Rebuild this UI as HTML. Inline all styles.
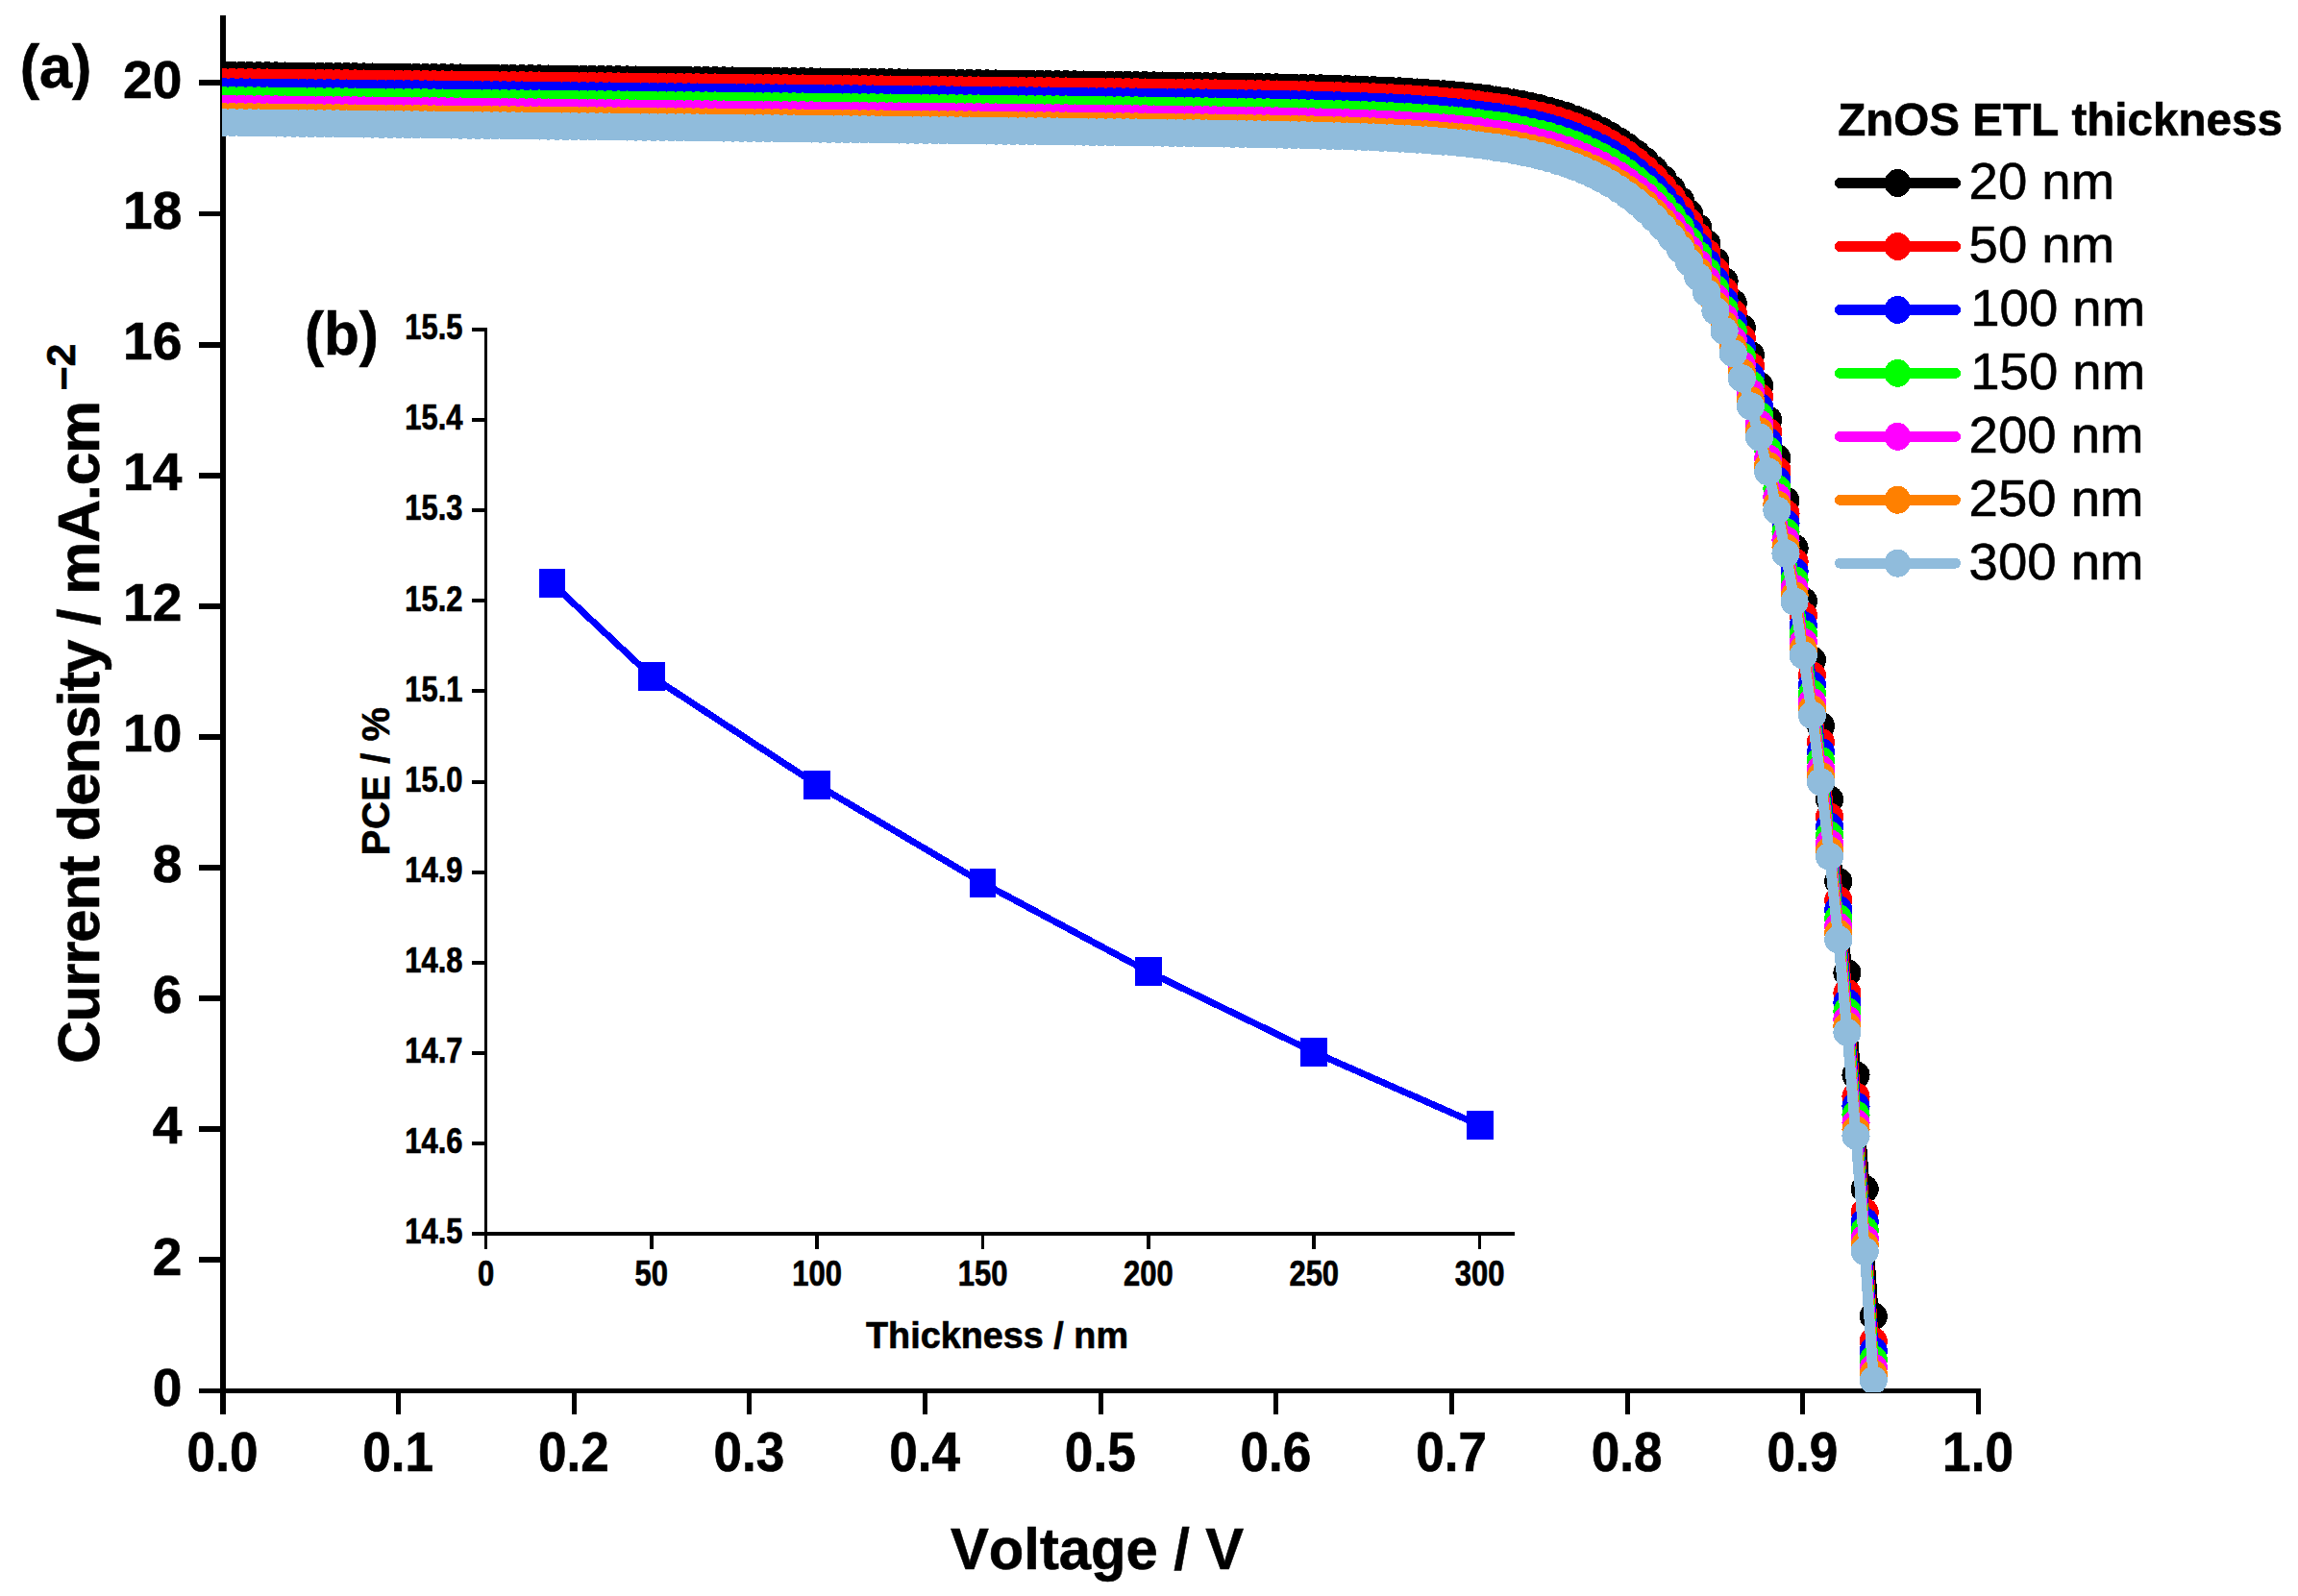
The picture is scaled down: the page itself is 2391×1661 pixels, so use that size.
<!DOCTYPE html>
<html lang="en"><head><meta charset="utf-8"><title>J-V curves, ZnOS ETL thickness</title>
<style>
html,body{margin:0;padding:0;background:#fff;}
body{width:2391px;height:1661px;overflow:hidden;}
svg{display:block;}
text{font-family:"Liberation Sans",Arial,Helvetica,sans-serif;fill:#000;font-kerning:none;stroke:#000;stroke-width:0.6px;}
.b{font-weight:bold;}
.ax{stroke:#000;fill:none;stroke-linecap:butt;}
</style></head><body>
<svg width="2391" height="1661" viewBox="0 0 2391 1661" shape-rendering="crispEdges">
<rect x="0" y="0" width="2391" height="1661" fill="#fff"/>
<g class="ax">
<line x1="232" y1="16" x2="232" y2="1472" stroke-width="5.9"/>
<line x1="207" y1="1447.4" x2="2060.9" y2="1447.4" stroke-width="5"/>
</g>
<g class="ax" stroke-width="5">
<line x1="207" y1="1311.3" x2="232" y2="1311.3" stroke-width="5.9"/>
<line x1="207" y1="1175.2" x2="232" y2="1175.2" stroke-width="5.9"/>
<line x1="207" y1="1039.1" x2="232" y2="1039.1" stroke-width="5.9"/>
<line x1="207" y1="903" x2="232" y2="903" stroke-width="5.9"/>
<line x1="207" y1="766.9" x2="232" y2="766.9" stroke-width="5.9"/>
<line x1="207" y1="630.8" x2="232" y2="630.8" stroke-width="5.9"/>
<line x1="207" y1="494.7" x2="232" y2="494.7" stroke-width="5.9"/>
<line x1="207" y1="358.6" x2="232" y2="358.6" stroke-width="5.9"/>
<line x1="207" y1="222.5" x2="232" y2="222.5" stroke-width="5.9"/>
<line x1="207" y1="86.4" x2="232" y2="86.4" stroke-width="5.9"/>
<line x1="414.65" y1="1447.4" x2="414.65" y2="1472"/>
<line x1="597.3" y1="1447.4" x2="597.3" y2="1472"/>
<line x1="779.95" y1="1447.4" x2="779.95" y2="1472"/>
<line x1="962.6" y1="1447.4" x2="962.6" y2="1472"/>
<line x1="1145.25" y1="1447.4" x2="1145.25" y2="1472"/>
<line x1="1327.9" y1="1447.4" x2="1327.9" y2="1472"/>
<line x1="1510.55" y1="1447.4" x2="1510.55" y2="1472"/>
<line x1="1693.2" y1="1447.4" x2="1693.2" y2="1472"/>
<line x1="1875.85" y1="1447.4" x2="1875.85" y2="1472"/>
<line x1="2058.5" y1="1447.4" x2="2058.5" y2="1472"/>
</g>
<defs><clipPath id="pc"><rect x="231" y="0" width="1900" height="1449"/></clipPath></defs>
<g clip-path="url(#pc)">
<g fill="#000000" stroke="none">
<polyline fill="none" stroke="#000000" stroke-width="11" stroke-linejoin="round" stroke-linecap="round" points="232.4,78.2 241.5,78.3 250.7,78.4 259.8,78.5 268.9,78.6 278.1,78.7 287.2,78.8 296.3,78.9 305.5,79.0 314.6,79.1 323.7,79.2 332.9,79.3 342.0,79.4 351.1,79.5 360.3,79.6 369.4,79.7 378.5,79.8 387.7,79.9 396.8,80.0 405.9,80.1 415.0,80.2 424.2,80.3 433.3,80.4 442.4,80.5 451.6,80.6 460.7,80.7 469.8,80.8 479.0,80.9 488.1,81.0 497.2,81.1 506.4,81.2 515.5,81.3 524.6,81.4 533.8,81.5 542.9,81.6 552.0,81.7 561.2,81.8 570.3,81.9 579.4,82.0 588.6,82.1 597.7,82.2 606.8,82.3 616.0,82.4 625.1,82.5 634.2,82.6 643.4,82.7 652.5,82.8 661.6,82.9 670.8,83.0 679.9,83.1 689.0,83.2 698.2,83.2 707.3,83.3 716.4,83.4 725.6,83.5 734.7,83.6 743.8,83.7 753.0,83.8 762.1,83.9 771.2,84.0 780.3,84.1 789.5,84.2 798.6,84.3 807.7,84.4 816.9,84.5 826.0,84.6 835.1,84.7 844.3,84.8 853.4,84.9 862.5,85.0 871.7,85.1 880.8,85.2 889.9,85.3 899.1,85.4 908.2,85.5 917.3,85.6 926.5,85.7 935.6,85.8 944.7,85.9 953.9,86.0 963.0,86.1 972.1,86.2 981.3,86.3 990.4,86.4 999.5,86.5 1008.7,86.6 1017.8,86.7 1026.9,86.8 1036.1,86.9 1045.2,87.0 1054.3,87.1 1063.5,87.2 1072.6,87.3 1081.7,87.4 1090.9,87.5 1100.0,87.6 1109.1,87.7 1118.3,87.8 1127.4,87.9 1136.5,88.1 1145.7,88.2 1154.8,88.3 1163.9,88.4 1173.0,88.5 1182.2,88.6 1191.3,88.7 1200.4,88.8 1209.6,88.9 1218.7,89.1 1227.8,89.2 1237.0,89.3 1246.1,89.4 1255.2,89.6 1264.4,89.7 1273.5,89.8 1282.6,90.0 1291.8,90.1 1300.9,90.3 1310.0,90.4 1319.2,90.6 1328.3,90.8 1337.4,91.0 1346.6,91.2 1355.7,91.4 1364.8,91.6 1374.0,91.8 1383.1,92.1 1392.2,92.3 1401.4,92.6 1410.5,92.9 1419.6,93.2 1428.8,93.6 1437.9,94.0 1447.0,94.4 1456.2,94.8 1465.3,95.3 1474.4,95.9 1483.6,96.5 1492.7,97.1 1501.8,97.8 1511.0,98.6 1520.1,99.5 1529.2,100.4 1538.3,101.5 1547.5,102.6 1556.6,103.9 1565.7,105.3 1574.9,106.9 1584.0,108.7 1593.1,110.6 1602.3,112.7 1611.4,115.1 1620.5,117.8 1629.7,120.7 1638.8,124.0 1647.9,127.7 1657.1,131.7 1666.2,136.2 1675.3,141.2 1684.5,146.8 1693.6,153.1 1702.7,160.0 1711.9,167.8 1721.0,176.4 1730.1,186.0 1739.3,196.7 1748.4,208.7 1757.5,222.0 1766.7,236.8 1775.8,253.4 1784.9,271.9 1794.1,292.5 1803.2,315.4 1812.3,341.1 1821.5,369.6 1830.6,401.5 1839.7,437.1 1848.9,476.8 1858.0,521.0 1867.1,570.4 1876.3,625.5 1885.4,686.9 1894.5,755.5 1903.6,832.0 1912.8,917.4 1921.9,1012.6 1931.0,1118.9 1940.2,1237.5 1949.3,1369.8"/>
<ellipse cx="232.4" cy="78.2" rx="14.55" ry="14.45"/>
<ellipse cx="241.5" cy="78.3" rx="14.55" ry="14.45"/>
<ellipse cx="250.7" cy="78.4" rx="14.55" ry="14.45"/>
<ellipse cx="259.8" cy="78.5" rx="14.55" ry="14.45"/>
<ellipse cx="268.9" cy="78.6" rx="14.55" ry="14.45"/>
<ellipse cx="278.1" cy="78.7" rx="14.55" ry="14.45"/>
<ellipse cx="287.2" cy="78.8" rx="14.55" ry="14.45"/>
<ellipse cx="296.3" cy="78.9" rx="14.55" ry="14.45"/>
<ellipse cx="305.5" cy="79.0" rx="14.55" ry="14.45"/>
<ellipse cx="314.6" cy="79.1" rx="14.55" ry="14.45"/>
<ellipse cx="323.7" cy="79.2" rx="14.55" ry="14.45"/>
<ellipse cx="332.9" cy="79.3" rx="14.55" ry="14.45"/>
<ellipse cx="342.0" cy="79.4" rx="14.55" ry="14.45"/>
<ellipse cx="351.1" cy="79.5" rx="14.55" ry="14.45"/>
<ellipse cx="360.3" cy="79.6" rx="14.55" ry="14.45"/>
<ellipse cx="369.4" cy="79.7" rx="14.55" ry="14.45"/>
<ellipse cx="378.5" cy="79.8" rx="14.55" ry="14.45"/>
<ellipse cx="387.7" cy="79.9" rx="14.55" ry="14.45"/>
<ellipse cx="396.8" cy="80.0" rx="14.55" ry="14.45"/>
<ellipse cx="405.9" cy="80.1" rx="14.55" ry="14.45"/>
<ellipse cx="415.0" cy="80.2" rx="14.55" ry="14.45"/>
<ellipse cx="424.2" cy="80.3" rx="14.55" ry="14.45"/>
<ellipse cx="433.3" cy="80.4" rx="14.55" ry="14.45"/>
<ellipse cx="442.4" cy="80.5" rx="14.55" ry="14.45"/>
<ellipse cx="451.6" cy="80.6" rx="14.55" ry="14.45"/>
<ellipse cx="460.7" cy="80.7" rx="14.55" ry="14.45"/>
<ellipse cx="469.8" cy="80.8" rx="14.55" ry="14.45"/>
<ellipse cx="479.0" cy="80.9" rx="14.55" ry="14.45"/>
<ellipse cx="488.1" cy="81.0" rx="14.55" ry="14.45"/>
<ellipse cx="497.2" cy="81.1" rx="14.55" ry="14.45"/>
<ellipse cx="506.4" cy="81.2" rx="14.55" ry="14.45"/>
<ellipse cx="515.5" cy="81.3" rx="14.55" ry="14.45"/>
<ellipse cx="524.6" cy="81.4" rx="14.55" ry="14.45"/>
<ellipse cx="533.8" cy="81.5" rx="14.55" ry="14.45"/>
<ellipse cx="542.9" cy="81.6" rx="14.55" ry="14.45"/>
<ellipse cx="552.0" cy="81.7" rx="14.55" ry="14.45"/>
<ellipse cx="561.2" cy="81.8" rx="14.55" ry="14.45"/>
<ellipse cx="570.3" cy="81.9" rx="14.55" ry="14.45"/>
<ellipse cx="579.4" cy="82.0" rx="14.55" ry="14.45"/>
<ellipse cx="588.6" cy="82.1" rx="14.55" ry="14.45"/>
<ellipse cx="597.7" cy="82.2" rx="14.55" ry="14.45"/>
<ellipse cx="606.8" cy="82.3" rx="14.55" ry="14.45"/>
<ellipse cx="616.0" cy="82.4" rx="14.55" ry="14.45"/>
<ellipse cx="625.1" cy="82.5" rx="14.55" ry="14.45"/>
<ellipse cx="634.2" cy="82.6" rx="14.55" ry="14.45"/>
<ellipse cx="643.4" cy="82.7" rx="14.55" ry="14.45"/>
<ellipse cx="652.5" cy="82.8" rx="14.55" ry="14.45"/>
<ellipse cx="661.6" cy="82.9" rx="14.55" ry="14.45"/>
<ellipse cx="670.8" cy="83.0" rx="14.55" ry="14.45"/>
<ellipse cx="679.9" cy="83.1" rx="14.55" ry="14.45"/>
<ellipse cx="689.0" cy="83.2" rx="14.55" ry="14.45"/>
<ellipse cx="698.2" cy="83.2" rx="14.55" ry="14.45"/>
<ellipse cx="707.3" cy="83.3" rx="14.55" ry="14.45"/>
<ellipse cx="716.4" cy="83.4" rx="14.55" ry="14.45"/>
<ellipse cx="725.6" cy="83.5" rx="14.55" ry="14.45"/>
<ellipse cx="734.7" cy="83.6" rx="14.55" ry="14.45"/>
<ellipse cx="743.8" cy="83.7" rx="14.55" ry="14.45"/>
<ellipse cx="753.0" cy="83.8" rx="14.55" ry="14.45"/>
<ellipse cx="762.1" cy="83.9" rx="14.55" ry="14.45"/>
<ellipse cx="771.2" cy="84.0" rx="14.55" ry="14.45"/>
<ellipse cx="780.3" cy="84.1" rx="14.55" ry="14.45"/>
<ellipse cx="789.5" cy="84.2" rx="14.55" ry="14.45"/>
<ellipse cx="798.6" cy="84.3" rx="14.55" ry="14.45"/>
<ellipse cx="807.7" cy="84.4" rx="14.55" ry="14.45"/>
<ellipse cx="816.9" cy="84.5" rx="14.55" ry="14.45"/>
<ellipse cx="826.0" cy="84.6" rx="14.55" ry="14.45"/>
<ellipse cx="835.1" cy="84.7" rx="14.55" ry="14.45"/>
<ellipse cx="844.3" cy="84.8" rx="14.55" ry="14.45"/>
<ellipse cx="853.4" cy="84.9" rx="14.55" ry="14.45"/>
<ellipse cx="862.5" cy="85.0" rx="14.55" ry="14.45"/>
<ellipse cx="871.7" cy="85.1" rx="14.55" ry="14.45"/>
<ellipse cx="880.8" cy="85.2" rx="14.55" ry="14.45"/>
<ellipse cx="889.9" cy="85.3" rx="14.55" ry="14.45"/>
<ellipse cx="899.1" cy="85.4" rx="14.55" ry="14.45"/>
<ellipse cx="908.2" cy="85.5" rx="14.55" ry="14.45"/>
<ellipse cx="917.3" cy="85.6" rx="14.55" ry="14.45"/>
<ellipse cx="926.5" cy="85.7" rx="14.55" ry="14.45"/>
<ellipse cx="935.6" cy="85.8" rx="14.55" ry="14.45"/>
<ellipse cx="944.7" cy="85.9" rx="14.55" ry="14.45"/>
<ellipse cx="953.9" cy="86.0" rx="14.55" ry="14.45"/>
<ellipse cx="963.0" cy="86.1" rx="14.55" ry="14.45"/>
<ellipse cx="972.1" cy="86.2" rx="14.55" ry="14.45"/>
<ellipse cx="981.3" cy="86.3" rx="14.55" ry="14.45"/>
<ellipse cx="990.4" cy="86.4" rx="14.55" ry="14.45"/>
<ellipse cx="999.5" cy="86.5" rx="14.55" ry="14.45"/>
<ellipse cx="1008.7" cy="86.6" rx="14.55" ry="14.45"/>
<ellipse cx="1017.8" cy="86.7" rx="14.55" ry="14.45"/>
<ellipse cx="1026.9" cy="86.8" rx="14.55" ry="14.45"/>
<ellipse cx="1036.1" cy="86.9" rx="14.55" ry="14.45"/>
<ellipse cx="1045.2" cy="87.0" rx="14.55" ry="14.45"/>
<ellipse cx="1054.3" cy="87.1" rx="14.55" ry="14.45"/>
<ellipse cx="1063.5" cy="87.2" rx="14.55" ry="14.45"/>
<ellipse cx="1072.6" cy="87.3" rx="14.55" ry="14.45"/>
<ellipse cx="1081.7" cy="87.4" rx="14.55" ry="14.45"/>
<ellipse cx="1090.9" cy="87.5" rx="14.55" ry="14.45"/>
<ellipse cx="1100.0" cy="87.6" rx="14.55" ry="14.45"/>
<ellipse cx="1109.1" cy="87.7" rx="14.55" ry="14.45"/>
<ellipse cx="1118.3" cy="87.8" rx="14.55" ry="14.45"/>
<ellipse cx="1127.4" cy="87.9" rx="14.55" ry="14.45"/>
<ellipse cx="1136.5" cy="88.1" rx="14.55" ry="14.45"/>
<ellipse cx="1145.7" cy="88.2" rx="14.55" ry="14.45"/>
<ellipse cx="1154.8" cy="88.3" rx="14.55" ry="14.45"/>
<ellipse cx="1163.9" cy="88.4" rx="14.55" ry="14.45"/>
<ellipse cx="1173.0" cy="88.5" rx="14.55" ry="14.45"/>
<ellipse cx="1182.2" cy="88.6" rx="14.55" ry="14.45"/>
<ellipse cx="1191.3" cy="88.7" rx="14.55" ry="14.45"/>
<ellipse cx="1200.4" cy="88.8" rx="14.55" ry="14.45"/>
<ellipse cx="1209.6" cy="88.9" rx="14.55" ry="14.45"/>
<ellipse cx="1218.7" cy="89.1" rx="14.55" ry="14.45"/>
<ellipse cx="1227.8" cy="89.2" rx="14.55" ry="14.45"/>
<ellipse cx="1237.0" cy="89.3" rx="14.55" ry="14.45"/>
<ellipse cx="1246.1" cy="89.4" rx="14.55" ry="14.45"/>
<ellipse cx="1255.2" cy="89.6" rx="14.55" ry="14.45"/>
<ellipse cx="1264.4" cy="89.7" rx="14.55" ry="14.45"/>
<ellipse cx="1273.5" cy="89.8" rx="14.55" ry="14.45"/>
<ellipse cx="1282.6" cy="90.0" rx="14.55" ry="14.45"/>
<ellipse cx="1291.8" cy="90.1" rx="14.55" ry="14.45"/>
<ellipse cx="1300.9" cy="90.3" rx="14.55" ry="14.45"/>
<ellipse cx="1310.0" cy="90.4" rx="14.55" ry="14.45"/>
<ellipse cx="1319.2" cy="90.6" rx="14.55" ry="14.45"/>
<ellipse cx="1328.3" cy="90.8" rx="14.55" ry="14.45"/>
<ellipse cx="1337.4" cy="91.0" rx="14.55" ry="14.45"/>
<ellipse cx="1346.6" cy="91.2" rx="14.55" ry="14.45"/>
<ellipse cx="1355.7" cy="91.4" rx="14.55" ry="14.45"/>
<ellipse cx="1364.8" cy="91.6" rx="14.55" ry="14.45"/>
<ellipse cx="1374.0" cy="91.8" rx="14.55" ry="14.45"/>
<ellipse cx="1383.1" cy="92.1" rx="14.55" ry="14.45"/>
<ellipse cx="1392.2" cy="92.3" rx="14.55" ry="14.45"/>
<ellipse cx="1401.4" cy="92.6" rx="14.55" ry="14.45"/>
<ellipse cx="1410.5" cy="92.9" rx="14.55" ry="14.45"/>
<ellipse cx="1419.6" cy="93.2" rx="14.55" ry="14.45"/>
<ellipse cx="1428.8" cy="93.6" rx="14.55" ry="14.45"/>
<ellipse cx="1437.9" cy="94.0" rx="14.55" ry="14.45"/>
<ellipse cx="1447.0" cy="94.4" rx="14.55" ry="14.45"/>
<ellipse cx="1456.2" cy="94.8" rx="14.55" ry="14.45"/>
<ellipse cx="1465.3" cy="95.3" rx="14.55" ry="14.45"/>
<ellipse cx="1474.4" cy="95.9" rx="14.55" ry="14.45"/>
<ellipse cx="1483.6" cy="96.5" rx="14.55" ry="14.45"/>
<ellipse cx="1492.7" cy="97.1" rx="14.55" ry="14.45"/>
<ellipse cx="1501.8" cy="97.8" rx="14.55" ry="14.45"/>
<ellipse cx="1511.0" cy="98.6" rx="14.55" ry="14.45"/>
<ellipse cx="1520.1" cy="99.5" rx="14.55" ry="14.45"/>
<ellipse cx="1529.2" cy="100.4" rx="14.55" ry="14.45"/>
<ellipse cx="1538.3" cy="101.5" rx="14.55" ry="14.45"/>
<ellipse cx="1547.5" cy="102.6" rx="14.55" ry="14.45"/>
<ellipse cx="1556.6" cy="103.9" rx="14.55" ry="14.45"/>
<ellipse cx="1565.7" cy="105.3" rx="14.55" ry="14.45"/>
<ellipse cx="1574.9" cy="106.9" rx="14.55" ry="14.45"/>
<ellipse cx="1584.0" cy="108.7" rx="14.55" ry="14.45"/>
<ellipse cx="1593.1" cy="110.6" rx="14.55" ry="14.45"/>
<ellipse cx="1602.3" cy="112.7" rx="14.55" ry="14.45"/>
<ellipse cx="1611.4" cy="115.1" rx="14.55" ry="14.45"/>
<ellipse cx="1620.5" cy="117.8" rx="14.55" ry="14.45"/>
<ellipse cx="1629.7" cy="120.7" rx="14.55" ry="14.45"/>
<ellipse cx="1638.8" cy="124.0" rx="14.55" ry="14.45"/>
<ellipse cx="1647.9" cy="127.7" rx="14.55" ry="14.45"/>
<ellipse cx="1657.1" cy="131.7" rx="14.55" ry="14.45"/>
<ellipse cx="1666.2" cy="136.2" rx="14.55" ry="14.45"/>
<ellipse cx="1675.3" cy="141.2" rx="14.55" ry="14.45"/>
<ellipse cx="1684.5" cy="146.8" rx="14.55" ry="14.45"/>
<ellipse cx="1693.6" cy="153.1" rx="14.55" ry="14.45"/>
<ellipse cx="1702.7" cy="160.0" rx="14.55" ry="14.45"/>
<ellipse cx="1711.9" cy="167.8" rx="14.55" ry="14.45"/>
<ellipse cx="1721.0" cy="176.4" rx="14.55" ry="14.45"/>
<ellipse cx="1730.1" cy="186.0" rx="14.55" ry="14.45"/>
<ellipse cx="1739.3" cy="196.7" rx="14.55" ry="14.45"/>
<ellipse cx="1748.4" cy="208.7" rx="14.55" ry="14.45"/>
<ellipse cx="1757.5" cy="222.0" rx="14.55" ry="14.45"/>
<ellipse cx="1766.7" cy="236.8" rx="14.55" ry="14.45"/>
<ellipse cx="1775.8" cy="253.4" rx="14.55" ry="14.45"/>
<ellipse cx="1784.9" cy="271.9" rx="14.55" ry="14.45"/>
<ellipse cx="1794.1" cy="292.5" rx="14.55" ry="14.45"/>
<ellipse cx="1803.2" cy="315.4" rx="14.55" ry="14.45"/>
<ellipse cx="1812.3" cy="341.1" rx="14.55" ry="14.45"/>
<ellipse cx="1821.5" cy="369.6" rx="14.55" ry="14.45"/>
<ellipse cx="1830.6" cy="401.5" rx="14.55" ry="14.45"/>
<ellipse cx="1839.7" cy="437.1" rx="14.55" ry="14.45"/>
<ellipse cx="1848.9" cy="476.8" rx="14.55" ry="14.45"/>
<ellipse cx="1858.0" cy="521.0" rx="14.55" ry="14.45"/>
<ellipse cx="1867.1" cy="570.4" rx="14.55" ry="14.45"/>
<ellipse cx="1876.3" cy="625.5" rx="14.55" ry="14.45"/>
<ellipse cx="1885.4" cy="686.9" rx="14.55" ry="14.45"/>
<ellipse cx="1894.5" cy="755.5" rx="14.55" ry="14.45"/>
<ellipse cx="1903.6" cy="832.0" rx="14.55" ry="14.45"/>
<ellipse cx="1912.8" cy="917.4" rx="14.55" ry="14.45"/>
<ellipse cx="1921.9" cy="1012.6" rx="14.55" ry="14.45"/>
<ellipse cx="1931.0" cy="1118.9" rx="14.55" ry="14.45"/>
<ellipse cx="1940.2" cy="1237.5" rx="14.55" ry="14.45"/>
<ellipse cx="1949.3" cy="1369.8" rx="14.55" ry="14.45"/>
</g>
<g fill="#ff0000" stroke="none">
<polyline fill="none" stroke="#ff0000" stroke-width="11" stroke-linejoin="round" stroke-linecap="round" points="232.4,85.4 241.5,85.5 250.7,85.6 259.8,85.7 268.9,85.8 278.1,85.9 287.2,86.0 296.3,86.1 305.5,86.1 314.6,86.2 323.7,86.3 332.9,86.4 342.0,86.5 351.1,86.6 360.3,86.7 369.4,86.8 378.5,86.9 387.7,87.0 396.8,87.1 405.9,87.2 415.0,87.3 424.2,87.4 433.3,87.5 442.4,87.6 451.6,87.7 460.7,87.8 469.8,87.9 479.0,88.0 488.1,88.1 497.2,88.2 506.4,88.3 515.5,88.4 524.6,88.5 533.8,88.6 542.9,88.7 552.0,88.8 561.2,88.9 570.3,89.0 579.4,89.1 588.6,89.2 597.7,89.3 606.8,89.4 616.0,89.5 625.1,89.6 634.2,89.7 643.4,89.8 652.5,89.9 661.6,90.0 670.8,90.1 679.9,90.2 689.0,90.3 698.2,90.4 707.3,90.5 716.4,90.6 725.6,90.7 734.7,90.8 743.8,90.9 753.0,91.0 762.1,91.1 771.2,91.2 780.3,91.3 789.5,91.4 798.6,91.5 807.7,91.6 816.9,91.7 826.0,91.8 835.1,91.9 844.3,92.0 853.4,92.1 862.5,92.2 871.7,92.3 880.8,92.4 889.9,92.5 899.1,92.6 908.2,92.7 917.3,92.8 926.5,92.9 935.6,93.0 944.7,93.1 953.9,93.2 963.0,93.3 972.1,93.4 981.3,93.5 990.4,93.6 999.5,93.7 1008.7,93.8 1017.8,93.9 1026.9,94.0 1036.1,94.1 1045.2,94.2 1054.3,94.3 1063.5,94.4 1072.6,94.5 1081.7,94.6 1090.9,94.7 1100.0,94.8 1109.1,94.9 1118.3,95.0 1127.4,95.1 1136.5,95.2 1145.7,95.3 1154.8,95.4 1163.9,95.5 1173.0,95.6 1182.2,95.7 1191.3,95.9 1200.4,96.0 1209.6,96.1 1218.7,96.2 1227.8,96.3 1237.0,96.5 1246.1,96.6 1255.2,96.7 1264.4,96.8 1273.5,97.0 1282.6,97.1 1291.8,97.3 1300.9,97.4 1310.0,97.6 1319.2,97.8 1328.3,97.9 1337.4,98.1 1346.6,98.3 1355.7,98.5 1364.8,98.7 1374.0,99.0 1383.1,99.2 1392.2,99.5 1401.4,99.8 1410.5,100.1 1419.6,100.4 1428.8,100.8 1437.9,101.2 1447.0,101.6 1456.2,102.0 1465.3,102.5 1474.4,103.1 1483.6,103.7 1492.7,104.3 1501.8,105.1 1511.0,105.9 1520.1,106.7 1529.2,107.7 1538.3,108.8 1547.5,109.9 1556.6,111.2 1565.7,112.7 1574.9,114.3 1584.0,116.0 1593.1,118.0 1602.3,120.2 1611.4,122.6 1620.5,125.3 1629.7,128.3 1638.8,131.6 1647.9,135.3 1657.1,139.4 1666.2,144.0 1675.3,149.1 1684.5,154.8 1693.6,161.1 1702.7,168.1 1711.9,176.0 1721.0,184.7 1730.1,194.5 1739.3,205.4 1748.4,217.5 1757.5,231.0 1766.7,246.1 1775.8,262.9 1784.9,281.6 1794.1,302.5 1803.2,325.8 1812.3,351.8 1821.5,380.8 1830.6,413.2 1839.7,449.3 1848.9,489.5 1858.0,534.4 1867.1,584.5 1876.3,640.5 1885.4,702.8 1894.5,772.4 1903.6,850.0 1912.8,936.7 1921.9,1033.3 1931.0,1141.2 1940.2,1261.5 1949.3,1395.7"/>
<ellipse cx="232.4" cy="85.4" rx="14.55" ry="14.45"/>
<ellipse cx="241.5" cy="85.5" rx="14.55" ry="14.45"/>
<ellipse cx="250.7" cy="85.6" rx="14.55" ry="14.45"/>
<ellipse cx="259.8" cy="85.7" rx="14.55" ry="14.45"/>
<ellipse cx="268.9" cy="85.8" rx="14.55" ry="14.45"/>
<ellipse cx="278.1" cy="85.9" rx="14.55" ry="14.45"/>
<ellipse cx="287.2" cy="86.0" rx="14.55" ry="14.45"/>
<ellipse cx="296.3" cy="86.1" rx="14.55" ry="14.45"/>
<ellipse cx="305.5" cy="86.1" rx="14.55" ry="14.45"/>
<ellipse cx="314.6" cy="86.2" rx="14.55" ry="14.45"/>
<ellipse cx="323.7" cy="86.3" rx="14.55" ry="14.45"/>
<ellipse cx="332.9" cy="86.4" rx="14.55" ry="14.45"/>
<ellipse cx="342.0" cy="86.5" rx="14.55" ry="14.45"/>
<ellipse cx="351.1" cy="86.6" rx="14.55" ry="14.45"/>
<ellipse cx="360.3" cy="86.7" rx="14.55" ry="14.45"/>
<ellipse cx="369.4" cy="86.8" rx="14.55" ry="14.45"/>
<ellipse cx="378.5" cy="86.9" rx="14.55" ry="14.45"/>
<ellipse cx="387.7" cy="87.0" rx="14.55" ry="14.45"/>
<ellipse cx="396.8" cy="87.1" rx="14.55" ry="14.45"/>
<ellipse cx="405.9" cy="87.2" rx="14.55" ry="14.45"/>
<ellipse cx="415.0" cy="87.3" rx="14.55" ry="14.45"/>
<ellipse cx="424.2" cy="87.4" rx="14.55" ry="14.45"/>
<ellipse cx="433.3" cy="87.5" rx="14.55" ry="14.45"/>
<ellipse cx="442.4" cy="87.6" rx="14.55" ry="14.45"/>
<ellipse cx="451.6" cy="87.7" rx="14.55" ry="14.45"/>
<ellipse cx="460.7" cy="87.8" rx="14.55" ry="14.45"/>
<ellipse cx="469.8" cy="87.9" rx="14.55" ry="14.45"/>
<ellipse cx="479.0" cy="88.0" rx="14.55" ry="14.45"/>
<ellipse cx="488.1" cy="88.1" rx="14.55" ry="14.45"/>
<ellipse cx="497.2" cy="88.2" rx="14.55" ry="14.45"/>
<ellipse cx="506.4" cy="88.3" rx="14.55" ry="14.45"/>
<ellipse cx="515.5" cy="88.4" rx="14.55" ry="14.45"/>
<ellipse cx="524.6" cy="88.5" rx="14.55" ry="14.45"/>
<ellipse cx="533.8" cy="88.6" rx="14.55" ry="14.45"/>
<ellipse cx="542.9" cy="88.7" rx="14.55" ry="14.45"/>
<ellipse cx="552.0" cy="88.8" rx="14.55" ry="14.45"/>
<ellipse cx="561.2" cy="88.9" rx="14.55" ry="14.45"/>
<ellipse cx="570.3" cy="89.0" rx="14.55" ry="14.45"/>
<ellipse cx="579.4" cy="89.1" rx="14.55" ry="14.45"/>
<ellipse cx="588.6" cy="89.2" rx="14.55" ry="14.45"/>
<ellipse cx="597.7" cy="89.3" rx="14.55" ry="14.45"/>
<ellipse cx="606.8" cy="89.4" rx="14.55" ry="14.45"/>
<ellipse cx="616.0" cy="89.5" rx="14.55" ry="14.45"/>
<ellipse cx="625.1" cy="89.6" rx="14.55" ry="14.45"/>
<ellipse cx="634.2" cy="89.7" rx="14.55" ry="14.45"/>
<ellipse cx="643.4" cy="89.8" rx="14.55" ry="14.45"/>
<ellipse cx="652.5" cy="89.9" rx="14.55" ry="14.45"/>
<ellipse cx="661.6" cy="90.0" rx="14.55" ry="14.45"/>
<ellipse cx="670.8" cy="90.1" rx="14.55" ry="14.45"/>
<ellipse cx="679.9" cy="90.2" rx="14.55" ry="14.45"/>
<ellipse cx="689.0" cy="90.3" rx="14.55" ry="14.45"/>
<ellipse cx="698.2" cy="90.4" rx="14.55" ry="14.45"/>
<ellipse cx="707.3" cy="90.5" rx="14.55" ry="14.45"/>
<ellipse cx="716.4" cy="90.6" rx="14.55" ry="14.45"/>
<ellipse cx="725.6" cy="90.7" rx="14.55" ry="14.45"/>
<ellipse cx="734.7" cy="90.8" rx="14.55" ry="14.45"/>
<ellipse cx="743.8" cy="90.9" rx="14.55" ry="14.45"/>
<ellipse cx="753.0" cy="91.0" rx="14.55" ry="14.45"/>
<ellipse cx="762.1" cy="91.1" rx="14.55" ry="14.45"/>
<ellipse cx="771.2" cy="91.2" rx="14.55" ry="14.45"/>
<ellipse cx="780.3" cy="91.3" rx="14.55" ry="14.45"/>
<ellipse cx="789.5" cy="91.4" rx="14.55" ry="14.45"/>
<ellipse cx="798.6" cy="91.5" rx="14.55" ry="14.45"/>
<ellipse cx="807.7" cy="91.6" rx="14.55" ry="14.45"/>
<ellipse cx="816.9" cy="91.7" rx="14.55" ry="14.45"/>
<ellipse cx="826.0" cy="91.8" rx="14.55" ry="14.45"/>
<ellipse cx="835.1" cy="91.9" rx="14.55" ry="14.45"/>
<ellipse cx="844.3" cy="92.0" rx="14.55" ry="14.45"/>
<ellipse cx="853.4" cy="92.1" rx="14.55" ry="14.45"/>
<ellipse cx="862.5" cy="92.2" rx="14.55" ry="14.45"/>
<ellipse cx="871.7" cy="92.3" rx="14.55" ry="14.45"/>
<ellipse cx="880.8" cy="92.4" rx="14.55" ry="14.45"/>
<ellipse cx="889.9" cy="92.5" rx="14.55" ry="14.45"/>
<ellipse cx="899.1" cy="92.6" rx="14.55" ry="14.45"/>
<ellipse cx="908.2" cy="92.7" rx="14.55" ry="14.45"/>
<ellipse cx="917.3" cy="92.8" rx="14.55" ry="14.45"/>
<ellipse cx="926.5" cy="92.9" rx="14.55" ry="14.45"/>
<ellipse cx="935.6" cy="93.0" rx="14.55" ry="14.45"/>
<ellipse cx="944.7" cy="93.1" rx="14.55" ry="14.45"/>
<ellipse cx="953.9" cy="93.2" rx="14.55" ry="14.45"/>
<ellipse cx="963.0" cy="93.3" rx="14.55" ry="14.45"/>
<ellipse cx="972.1" cy="93.4" rx="14.55" ry="14.45"/>
<ellipse cx="981.3" cy="93.5" rx="14.55" ry="14.45"/>
<ellipse cx="990.4" cy="93.6" rx="14.55" ry="14.45"/>
<ellipse cx="999.5" cy="93.7" rx="14.55" ry="14.45"/>
<ellipse cx="1008.7" cy="93.8" rx="14.55" ry="14.45"/>
<ellipse cx="1017.8" cy="93.9" rx="14.55" ry="14.45"/>
<ellipse cx="1026.9" cy="94.0" rx="14.55" ry="14.45"/>
<ellipse cx="1036.1" cy="94.1" rx="14.55" ry="14.45"/>
<ellipse cx="1045.2" cy="94.2" rx="14.55" ry="14.45"/>
<ellipse cx="1054.3" cy="94.3" rx="14.55" ry="14.45"/>
<ellipse cx="1063.5" cy="94.4" rx="14.55" ry="14.45"/>
<ellipse cx="1072.6" cy="94.5" rx="14.55" ry="14.45"/>
<ellipse cx="1081.7" cy="94.6" rx="14.55" ry="14.45"/>
<ellipse cx="1090.9" cy="94.7" rx="14.55" ry="14.45"/>
<ellipse cx="1100.0" cy="94.8" rx="14.55" ry="14.45"/>
<ellipse cx="1109.1" cy="94.9" rx="14.55" ry="14.45"/>
<ellipse cx="1118.3" cy="95.0" rx="14.55" ry="14.45"/>
<ellipse cx="1127.4" cy="95.1" rx="14.55" ry="14.45"/>
<ellipse cx="1136.5" cy="95.2" rx="14.55" ry="14.45"/>
<ellipse cx="1145.7" cy="95.3" rx="14.55" ry="14.45"/>
<ellipse cx="1154.8" cy="95.4" rx="14.55" ry="14.45"/>
<ellipse cx="1163.9" cy="95.5" rx="14.55" ry="14.45"/>
<ellipse cx="1173.0" cy="95.6" rx="14.55" ry="14.45"/>
<ellipse cx="1182.2" cy="95.7" rx="14.55" ry="14.45"/>
<ellipse cx="1191.3" cy="95.9" rx="14.55" ry="14.45"/>
<ellipse cx="1200.4" cy="96.0" rx="14.55" ry="14.45"/>
<ellipse cx="1209.6" cy="96.1" rx="14.55" ry="14.45"/>
<ellipse cx="1218.7" cy="96.2" rx="14.55" ry="14.45"/>
<ellipse cx="1227.8" cy="96.3" rx="14.55" ry="14.45"/>
<ellipse cx="1237.0" cy="96.5" rx="14.55" ry="14.45"/>
<ellipse cx="1246.1" cy="96.6" rx="14.55" ry="14.45"/>
<ellipse cx="1255.2" cy="96.7" rx="14.55" ry="14.45"/>
<ellipse cx="1264.4" cy="96.8" rx="14.55" ry="14.45"/>
<ellipse cx="1273.5" cy="97.0" rx="14.55" ry="14.45"/>
<ellipse cx="1282.6" cy="97.1" rx="14.55" ry="14.45"/>
<ellipse cx="1291.8" cy="97.3" rx="14.55" ry="14.45"/>
<ellipse cx="1300.9" cy="97.4" rx="14.55" ry="14.45"/>
<ellipse cx="1310.0" cy="97.6" rx="14.55" ry="14.45"/>
<ellipse cx="1319.2" cy="97.8" rx="14.55" ry="14.45"/>
<ellipse cx="1328.3" cy="97.9" rx="14.55" ry="14.45"/>
<ellipse cx="1337.4" cy="98.1" rx="14.55" ry="14.45"/>
<ellipse cx="1346.6" cy="98.3" rx="14.55" ry="14.45"/>
<ellipse cx="1355.7" cy="98.5" rx="14.55" ry="14.45"/>
<ellipse cx="1364.8" cy="98.7" rx="14.55" ry="14.45"/>
<ellipse cx="1374.0" cy="99.0" rx="14.55" ry="14.45"/>
<ellipse cx="1383.1" cy="99.2" rx="14.55" ry="14.45"/>
<ellipse cx="1392.2" cy="99.5" rx="14.55" ry="14.45"/>
<ellipse cx="1401.4" cy="99.8" rx="14.55" ry="14.45"/>
<ellipse cx="1410.5" cy="100.1" rx="14.55" ry="14.45"/>
<ellipse cx="1419.6" cy="100.4" rx="14.55" ry="14.45"/>
<ellipse cx="1428.8" cy="100.8" rx="14.55" ry="14.45"/>
<ellipse cx="1437.9" cy="101.2" rx="14.55" ry="14.45"/>
<ellipse cx="1447.0" cy="101.6" rx="14.55" ry="14.45"/>
<ellipse cx="1456.2" cy="102.0" rx="14.55" ry="14.45"/>
<ellipse cx="1465.3" cy="102.5" rx="14.55" ry="14.45"/>
<ellipse cx="1474.4" cy="103.1" rx="14.55" ry="14.45"/>
<ellipse cx="1483.6" cy="103.7" rx="14.55" ry="14.45"/>
<ellipse cx="1492.7" cy="104.3" rx="14.55" ry="14.45"/>
<ellipse cx="1501.8" cy="105.1" rx="14.55" ry="14.45"/>
<ellipse cx="1511.0" cy="105.9" rx="14.55" ry="14.45"/>
<ellipse cx="1520.1" cy="106.7" rx="14.55" ry="14.45"/>
<ellipse cx="1529.2" cy="107.7" rx="14.55" ry="14.45"/>
<ellipse cx="1538.3" cy="108.8" rx="14.55" ry="14.45"/>
<ellipse cx="1547.5" cy="109.9" rx="14.55" ry="14.45"/>
<ellipse cx="1556.6" cy="111.2" rx="14.55" ry="14.45"/>
<ellipse cx="1565.7" cy="112.7" rx="14.55" ry="14.45"/>
<ellipse cx="1574.9" cy="114.3" rx="14.55" ry="14.45"/>
<ellipse cx="1584.0" cy="116.0" rx="14.55" ry="14.45"/>
<ellipse cx="1593.1" cy="118.0" rx="14.55" ry="14.45"/>
<ellipse cx="1602.3" cy="120.2" rx="14.55" ry="14.45"/>
<ellipse cx="1611.4" cy="122.6" rx="14.55" ry="14.45"/>
<ellipse cx="1620.5" cy="125.3" rx="14.55" ry="14.45"/>
<ellipse cx="1629.7" cy="128.3" rx="14.55" ry="14.45"/>
<ellipse cx="1638.8" cy="131.6" rx="14.55" ry="14.45"/>
<ellipse cx="1647.9" cy="135.3" rx="14.55" ry="14.45"/>
<ellipse cx="1657.1" cy="139.4" rx="14.55" ry="14.45"/>
<ellipse cx="1666.2" cy="144.0" rx="14.55" ry="14.45"/>
<ellipse cx="1675.3" cy="149.1" rx="14.55" ry="14.45"/>
<ellipse cx="1684.5" cy="154.8" rx="14.55" ry="14.45"/>
<ellipse cx="1693.6" cy="161.1" rx="14.55" ry="14.45"/>
<ellipse cx="1702.7" cy="168.1" rx="14.55" ry="14.45"/>
<ellipse cx="1711.9" cy="176.0" rx="14.55" ry="14.45"/>
<ellipse cx="1721.0" cy="184.7" rx="14.55" ry="14.45"/>
<ellipse cx="1730.1" cy="194.5" rx="14.55" ry="14.45"/>
<ellipse cx="1739.3" cy="205.4" rx="14.55" ry="14.45"/>
<ellipse cx="1748.4" cy="217.5" rx="14.55" ry="14.45"/>
<ellipse cx="1757.5" cy="231.0" rx="14.55" ry="14.45"/>
<ellipse cx="1766.7" cy="246.1" rx="14.55" ry="14.45"/>
<ellipse cx="1775.8" cy="262.9" rx="14.55" ry="14.45"/>
<ellipse cx="1784.9" cy="281.6" rx="14.55" ry="14.45"/>
<ellipse cx="1794.1" cy="302.5" rx="14.55" ry="14.45"/>
<ellipse cx="1803.2" cy="325.8" rx="14.55" ry="14.45"/>
<ellipse cx="1812.3" cy="351.8" rx="14.55" ry="14.45"/>
<ellipse cx="1821.5" cy="380.8" rx="14.55" ry="14.45"/>
<ellipse cx="1830.6" cy="413.2" rx="14.55" ry="14.45"/>
<ellipse cx="1839.7" cy="449.3" rx="14.55" ry="14.45"/>
<ellipse cx="1848.9" cy="489.5" rx="14.55" ry="14.45"/>
<ellipse cx="1858.0" cy="534.4" rx="14.55" ry="14.45"/>
<ellipse cx="1867.1" cy="584.5" rx="14.55" ry="14.45"/>
<ellipse cx="1876.3" cy="640.5" rx="14.55" ry="14.45"/>
<ellipse cx="1885.4" cy="702.8" rx="14.55" ry="14.45"/>
<ellipse cx="1894.5" cy="772.4" rx="14.55" ry="14.45"/>
<ellipse cx="1903.6" cy="850.0" rx="14.55" ry="14.45"/>
<ellipse cx="1912.8" cy="936.7" rx="14.55" ry="14.45"/>
<ellipse cx="1921.9" cy="1033.3" rx="14.55" ry="14.45"/>
<ellipse cx="1931.0" cy="1141.2" rx="14.55" ry="14.45"/>
<ellipse cx="1940.2" cy="1261.5" rx="14.55" ry="14.45"/>
<ellipse cx="1949.3" cy="1395.7" rx="14.55" ry="14.45"/>
</g>
<g fill="#0000ff" stroke="none">
<polyline fill="none" stroke="#0000ff" stroke-width="11" stroke-linejoin="round" stroke-linecap="round" points="232.4,95.6 241.5,95.7 250.7,95.8 259.8,95.9 268.9,96.0 278.1,96.1 287.2,96.2 296.3,96.3 305.5,96.3 314.6,96.4 323.7,96.5 332.9,96.6 342.0,96.7 351.1,96.8 360.3,96.9 369.4,97.0 378.5,97.1 387.7,97.2 396.8,97.3 405.9,97.4 415.0,97.5 424.2,97.6 433.3,97.7 442.4,97.8 451.6,97.9 460.7,98.0 469.8,98.1 479.0,98.2 488.1,98.3 497.2,98.4 506.4,98.5 515.5,98.6 524.6,98.7 533.8,98.8 542.9,98.9 552.0,99.0 561.2,99.1 570.3,99.2 579.4,99.3 588.6,99.4 597.7,99.5 606.8,99.6 616.0,99.7 625.1,99.8 634.2,99.9 643.4,100.0 652.5,100.1 661.6,100.2 670.8,100.3 679.9,100.4 689.0,100.5 698.2,100.6 707.3,100.7 716.4,100.8 725.6,100.9 734.7,101.0 743.8,101.1 753.0,101.2 762.1,101.3 771.2,101.4 780.3,101.5 789.5,101.6 798.6,101.7 807.7,101.8 816.9,101.9 826.0,102.0 835.1,102.1 844.3,102.2 853.4,102.3 862.5,102.4 871.7,102.5 880.8,102.6 889.9,102.7 899.1,102.8 908.2,102.9 917.3,103.0 926.5,103.1 935.6,103.2 944.7,103.3 953.9,103.4 963.0,103.5 972.1,103.6 981.3,103.7 990.4,103.8 999.5,103.9 1008.7,104.0 1017.8,104.1 1026.9,104.2 1036.1,104.3 1045.2,104.4 1054.3,104.5 1063.5,104.6 1072.6,104.7 1081.7,104.8 1090.9,104.9 1100.0,105.0 1109.1,105.1 1118.3,105.2 1127.4,105.3 1136.5,105.4 1145.7,105.5 1154.8,105.6 1163.9,105.7 1173.0,105.8 1182.2,105.9 1191.3,106.1 1200.4,106.2 1209.6,106.3 1218.7,106.4 1227.8,106.5 1237.0,106.7 1246.1,106.8 1255.2,106.9 1264.4,107.0 1273.5,107.2 1282.6,107.3 1291.8,107.5 1300.9,107.6 1310.0,107.8 1319.2,108.0 1328.3,108.1 1337.4,108.3 1346.6,108.5 1355.7,108.7 1364.8,108.9 1374.0,109.2 1383.1,109.4 1392.2,109.7 1401.4,110.0 1410.5,110.3 1419.6,110.6 1428.8,111.0 1437.9,111.4 1447.0,111.8 1456.2,112.2 1465.3,112.7 1474.4,113.3 1483.6,113.9 1492.7,114.5 1501.8,115.3 1511.0,116.1 1520.1,116.9 1529.2,117.9 1538.3,119.0 1547.5,120.1 1556.6,121.4 1565.7,122.9 1574.9,124.5 1584.0,126.2 1593.1,128.2 1602.3,130.4 1611.4,132.8 1620.5,135.5 1629.7,138.5 1638.8,141.8 1647.9,145.5 1657.1,149.6 1666.2,154.2 1675.3,159.3 1684.5,165.0 1693.6,171.3 1702.7,178.3 1711.9,186.2 1721.0,194.9 1730.1,204.7 1739.3,215.6 1748.4,227.7 1757.5,241.2 1766.7,256.2 1775.8,273.0 1784.9,291.8 1794.1,312.7 1803.2,336.0 1812.3,362.0 1821.5,391.0 1830.6,423.3 1839.7,459.4 1848.9,499.7 1858.0,544.6 1867.1,594.7 1876.3,650.6 1885.4,712.9 1894.5,782.5 1903.6,860.1 1912.8,946.7 1921.9,1043.3 1931.0,1151.2 1940.2,1271.5 1949.3,1405.7"/>
<ellipse cx="232.4" cy="95.6" rx="14.55" ry="14.45"/>
<ellipse cx="241.5" cy="95.7" rx="14.55" ry="14.45"/>
<ellipse cx="250.7" cy="95.8" rx="14.55" ry="14.45"/>
<ellipse cx="259.8" cy="95.9" rx="14.55" ry="14.45"/>
<ellipse cx="268.9" cy="96.0" rx="14.55" ry="14.45"/>
<ellipse cx="278.1" cy="96.1" rx="14.55" ry="14.45"/>
<ellipse cx="287.2" cy="96.2" rx="14.55" ry="14.45"/>
<ellipse cx="296.3" cy="96.3" rx="14.55" ry="14.45"/>
<ellipse cx="305.5" cy="96.3" rx="14.55" ry="14.45"/>
<ellipse cx="314.6" cy="96.4" rx="14.55" ry="14.45"/>
<ellipse cx="323.7" cy="96.5" rx="14.55" ry="14.45"/>
<ellipse cx="332.9" cy="96.6" rx="14.55" ry="14.45"/>
<ellipse cx="342.0" cy="96.7" rx="14.55" ry="14.45"/>
<ellipse cx="351.1" cy="96.8" rx="14.55" ry="14.45"/>
<ellipse cx="360.3" cy="96.9" rx="14.55" ry="14.45"/>
<ellipse cx="369.4" cy="97.0" rx="14.55" ry="14.45"/>
<ellipse cx="378.5" cy="97.1" rx="14.55" ry="14.45"/>
<ellipse cx="387.7" cy="97.2" rx="14.55" ry="14.45"/>
<ellipse cx="396.8" cy="97.3" rx="14.55" ry="14.45"/>
<ellipse cx="405.9" cy="97.4" rx="14.55" ry="14.45"/>
<ellipse cx="415.0" cy="97.5" rx="14.55" ry="14.45"/>
<ellipse cx="424.2" cy="97.6" rx="14.55" ry="14.45"/>
<ellipse cx="433.3" cy="97.7" rx="14.55" ry="14.45"/>
<ellipse cx="442.4" cy="97.8" rx="14.55" ry="14.45"/>
<ellipse cx="451.6" cy="97.9" rx="14.55" ry="14.45"/>
<ellipse cx="460.7" cy="98.0" rx="14.55" ry="14.45"/>
<ellipse cx="469.8" cy="98.1" rx="14.55" ry="14.45"/>
<ellipse cx="479.0" cy="98.2" rx="14.55" ry="14.45"/>
<ellipse cx="488.1" cy="98.3" rx="14.55" ry="14.45"/>
<ellipse cx="497.2" cy="98.4" rx="14.55" ry="14.45"/>
<ellipse cx="506.4" cy="98.5" rx="14.55" ry="14.45"/>
<ellipse cx="515.5" cy="98.6" rx="14.55" ry="14.45"/>
<ellipse cx="524.6" cy="98.7" rx="14.55" ry="14.45"/>
<ellipse cx="533.8" cy="98.8" rx="14.55" ry="14.45"/>
<ellipse cx="542.9" cy="98.9" rx="14.55" ry="14.45"/>
<ellipse cx="552.0" cy="99.0" rx="14.55" ry="14.45"/>
<ellipse cx="561.2" cy="99.1" rx="14.55" ry="14.45"/>
<ellipse cx="570.3" cy="99.2" rx="14.55" ry="14.45"/>
<ellipse cx="579.4" cy="99.3" rx="14.55" ry="14.45"/>
<ellipse cx="588.6" cy="99.4" rx="14.55" ry="14.45"/>
<ellipse cx="597.7" cy="99.5" rx="14.55" ry="14.45"/>
<ellipse cx="606.8" cy="99.6" rx="14.55" ry="14.45"/>
<ellipse cx="616.0" cy="99.7" rx="14.55" ry="14.45"/>
<ellipse cx="625.1" cy="99.8" rx="14.55" ry="14.45"/>
<ellipse cx="634.2" cy="99.9" rx="14.55" ry="14.45"/>
<ellipse cx="643.4" cy="100.0" rx="14.55" ry="14.45"/>
<ellipse cx="652.5" cy="100.1" rx="14.55" ry="14.45"/>
<ellipse cx="661.6" cy="100.2" rx="14.55" ry="14.45"/>
<ellipse cx="670.8" cy="100.3" rx="14.55" ry="14.45"/>
<ellipse cx="679.9" cy="100.4" rx="14.55" ry="14.45"/>
<ellipse cx="689.0" cy="100.5" rx="14.55" ry="14.45"/>
<ellipse cx="698.2" cy="100.6" rx="14.55" ry="14.45"/>
<ellipse cx="707.3" cy="100.7" rx="14.55" ry="14.45"/>
<ellipse cx="716.4" cy="100.8" rx="14.55" ry="14.45"/>
<ellipse cx="725.6" cy="100.9" rx="14.55" ry="14.45"/>
<ellipse cx="734.7" cy="101.0" rx="14.55" ry="14.45"/>
<ellipse cx="743.8" cy="101.1" rx="14.55" ry="14.45"/>
<ellipse cx="753.0" cy="101.2" rx="14.55" ry="14.45"/>
<ellipse cx="762.1" cy="101.3" rx="14.55" ry="14.45"/>
<ellipse cx="771.2" cy="101.4" rx="14.55" ry="14.45"/>
<ellipse cx="780.3" cy="101.5" rx="14.55" ry="14.45"/>
<ellipse cx="789.5" cy="101.6" rx="14.55" ry="14.45"/>
<ellipse cx="798.6" cy="101.7" rx="14.55" ry="14.45"/>
<ellipse cx="807.7" cy="101.8" rx="14.55" ry="14.45"/>
<ellipse cx="816.9" cy="101.9" rx="14.55" ry="14.45"/>
<ellipse cx="826.0" cy="102.0" rx="14.55" ry="14.45"/>
<ellipse cx="835.1" cy="102.1" rx="14.55" ry="14.45"/>
<ellipse cx="844.3" cy="102.2" rx="14.55" ry="14.45"/>
<ellipse cx="853.4" cy="102.3" rx="14.55" ry="14.45"/>
<ellipse cx="862.5" cy="102.4" rx="14.55" ry="14.45"/>
<ellipse cx="871.7" cy="102.5" rx="14.55" ry="14.45"/>
<ellipse cx="880.8" cy="102.6" rx="14.55" ry="14.45"/>
<ellipse cx="889.9" cy="102.7" rx="14.55" ry="14.45"/>
<ellipse cx="899.1" cy="102.8" rx="14.55" ry="14.45"/>
<ellipse cx="908.2" cy="102.9" rx="14.55" ry="14.45"/>
<ellipse cx="917.3" cy="103.0" rx="14.55" ry="14.45"/>
<ellipse cx="926.5" cy="103.1" rx="14.55" ry="14.45"/>
<ellipse cx="935.6" cy="103.2" rx="14.55" ry="14.45"/>
<ellipse cx="944.7" cy="103.3" rx="14.55" ry="14.45"/>
<ellipse cx="953.9" cy="103.4" rx="14.55" ry="14.45"/>
<ellipse cx="963.0" cy="103.5" rx="14.55" ry="14.45"/>
<ellipse cx="972.1" cy="103.6" rx="14.55" ry="14.45"/>
<ellipse cx="981.3" cy="103.7" rx="14.55" ry="14.45"/>
<ellipse cx="990.4" cy="103.8" rx="14.55" ry="14.45"/>
<ellipse cx="999.5" cy="103.9" rx="14.55" ry="14.45"/>
<ellipse cx="1008.7" cy="104.0" rx="14.55" ry="14.45"/>
<ellipse cx="1017.8" cy="104.1" rx="14.55" ry="14.45"/>
<ellipse cx="1026.9" cy="104.2" rx="14.55" ry="14.45"/>
<ellipse cx="1036.1" cy="104.3" rx="14.55" ry="14.45"/>
<ellipse cx="1045.2" cy="104.4" rx="14.55" ry="14.45"/>
<ellipse cx="1054.3" cy="104.5" rx="14.55" ry="14.45"/>
<ellipse cx="1063.5" cy="104.6" rx="14.55" ry="14.45"/>
<ellipse cx="1072.6" cy="104.7" rx="14.55" ry="14.45"/>
<ellipse cx="1081.7" cy="104.8" rx="14.55" ry="14.45"/>
<ellipse cx="1090.9" cy="104.9" rx="14.55" ry="14.45"/>
<ellipse cx="1100.0" cy="105.0" rx="14.55" ry="14.45"/>
<ellipse cx="1109.1" cy="105.1" rx="14.55" ry="14.45"/>
<ellipse cx="1118.3" cy="105.2" rx="14.55" ry="14.45"/>
<ellipse cx="1127.4" cy="105.3" rx="14.55" ry="14.45"/>
<ellipse cx="1136.5" cy="105.4" rx="14.55" ry="14.45"/>
<ellipse cx="1145.7" cy="105.5" rx="14.55" ry="14.45"/>
<ellipse cx="1154.8" cy="105.6" rx="14.55" ry="14.45"/>
<ellipse cx="1163.9" cy="105.7" rx="14.55" ry="14.45"/>
<ellipse cx="1173.0" cy="105.8" rx="14.55" ry="14.45"/>
<ellipse cx="1182.2" cy="105.9" rx="14.55" ry="14.45"/>
<ellipse cx="1191.3" cy="106.1" rx="14.55" ry="14.45"/>
<ellipse cx="1200.4" cy="106.2" rx="14.55" ry="14.45"/>
<ellipse cx="1209.6" cy="106.3" rx="14.55" ry="14.45"/>
<ellipse cx="1218.7" cy="106.4" rx="14.55" ry="14.45"/>
<ellipse cx="1227.8" cy="106.5" rx="14.55" ry="14.45"/>
<ellipse cx="1237.0" cy="106.7" rx="14.55" ry="14.45"/>
<ellipse cx="1246.1" cy="106.8" rx="14.55" ry="14.45"/>
<ellipse cx="1255.2" cy="106.9" rx="14.55" ry="14.45"/>
<ellipse cx="1264.4" cy="107.0" rx="14.55" ry="14.45"/>
<ellipse cx="1273.5" cy="107.2" rx="14.55" ry="14.45"/>
<ellipse cx="1282.6" cy="107.3" rx="14.55" ry="14.45"/>
<ellipse cx="1291.8" cy="107.5" rx="14.55" ry="14.45"/>
<ellipse cx="1300.9" cy="107.6" rx="14.55" ry="14.45"/>
<ellipse cx="1310.0" cy="107.8" rx="14.55" ry="14.45"/>
<ellipse cx="1319.2" cy="108.0" rx="14.55" ry="14.45"/>
<ellipse cx="1328.3" cy="108.1" rx="14.55" ry="14.45"/>
<ellipse cx="1337.4" cy="108.3" rx="14.55" ry="14.45"/>
<ellipse cx="1346.6" cy="108.5" rx="14.55" ry="14.45"/>
<ellipse cx="1355.7" cy="108.7" rx="14.55" ry="14.45"/>
<ellipse cx="1364.8" cy="108.9" rx="14.55" ry="14.45"/>
<ellipse cx="1374.0" cy="109.2" rx="14.55" ry="14.45"/>
<ellipse cx="1383.1" cy="109.4" rx="14.55" ry="14.45"/>
<ellipse cx="1392.2" cy="109.7" rx="14.55" ry="14.45"/>
<ellipse cx="1401.4" cy="110.0" rx="14.55" ry="14.45"/>
<ellipse cx="1410.5" cy="110.3" rx="14.55" ry="14.45"/>
<ellipse cx="1419.6" cy="110.6" rx="14.55" ry="14.45"/>
<ellipse cx="1428.8" cy="111.0" rx="14.55" ry="14.45"/>
<ellipse cx="1437.9" cy="111.4" rx="14.55" ry="14.45"/>
<ellipse cx="1447.0" cy="111.8" rx="14.55" ry="14.45"/>
<ellipse cx="1456.2" cy="112.2" rx="14.55" ry="14.45"/>
<ellipse cx="1465.3" cy="112.7" rx="14.55" ry="14.45"/>
<ellipse cx="1474.4" cy="113.3" rx="14.55" ry="14.45"/>
<ellipse cx="1483.6" cy="113.9" rx="14.55" ry="14.45"/>
<ellipse cx="1492.7" cy="114.5" rx="14.55" ry="14.45"/>
<ellipse cx="1501.8" cy="115.3" rx="14.55" ry="14.45"/>
<ellipse cx="1511.0" cy="116.1" rx="14.55" ry="14.45"/>
<ellipse cx="1520.1" cy="116.9" rx="14.55" ry="14.45"/>
<ellipse cx="1529.2" cy="117.9" rx="14.55" ry="14.45"/>
<ellipse cx="1538.3" cy="119.0" rx="14.55" ry="14.45"/>
<ellipse cx="1547.5" cy="120.1" rx="14.55" ry="14.45"/>
<ellipse cx="1556.6" cy="121.4" rx="14.55" ry="14.45"/>
<ellipse cx="1565.7" cy="122.9" rx="14.55" ry="14.45"/>
<ellipse cx="1574.9" cy="124.5" rx="14.55" ry="14.45"/>
<ellipse cx="1584.0" cy="126.2" rx="14.55" ry="14.45"/>
<ellipse cx="1593.1" cy="128.2" rx="14.55" ry="14.45"/>
<ellipse cx="1602.3" cy="130.4" rx="14.55" ry="14.45"/>
<ellipse cx="1611.4" cy="132.8" rx="14.55" ry="14.45"/>
<ellipse cx="1620.5" cy="135.5" rx="14.55" ry="14.45"/>
<ellipse cx="1629.7" cy="138.5" rx="14.55" ry="14.45"/>
<ellipse cx="1638.8" cy="141.8" rx="14.55" ry="14.45"/>
<ellipse cx="1647.9" cy="145.5" rx="14.55" ry="14.45"/>
<ellipse cx="1657.1" cy="149.6" rx="14.55" ry="14.45"/>
<ellipse cx="1666.2" cy="154.2" rx="14.55" ry="14.45"/>
<ellipse cx="1675.3" cy="159.3" rx="14.55" ry="14.45"/>
<ellipse cx="1684.5" cy="165.0" rx="14.55" ry="14.45"/>
<ellipse cx="1693.6" cy="171.3" rx="14.55" ry="14.45"/>
<ellipse cx="1702.7" cy="178.3" rx="14.55" ry="14.45"/>
<ellipse cx="1711.9" cy="186.2" rx="14.55" ry="14.45"/>
<ellipse cx="1721.0" cy="194.9" rx="14.55" ry="14.45"/>
<ellipse cx="1730.1" cy="204.7" rx="14.55" ry="14.45"/>
<ellipse cx="1739.3" cy="215.6" rx="14.55" ry="14.45"/>
<ellipse cx="1748.4" cy="227.7" rx="14.55" ry="14.45"/>
<ellipse cx="1757.5" cy="241.2" rx="14.55" ry="14.45"/>
<ellipse cx="1766.7" cy="256.2" rx="14.55" ry="14.45"/>
<ellipse cx="1775.8" cy="273.0" rx="14.55" ry="14.45"/>
<ellipse cx="1784.9" cy="291.8" rx="14.55" ry="14.45"/>
<ellipse cx="1794.1" cy="312.7" rx="14.55" ry="14.45"/>
<ellipse cx="1803.2" cy="336.0" rx="14.55" ry="14.45"/>
<ellipse cx="1812.3" cy="362.0" rx="14.55" ry="14.45"/>
<ellipse cx="1821.5" cy="391.0" rx="14.55" ry="14.45"/>
<ellipse cx="1830.6" cy="423.3" rx="14.55" ry="14.45"/>
<ellipse cx="1839.7" cy="459.4" rx="14.55" ry="14.45"/>
<ellipse cx="1848.9" cy="499.7" rx="14.55" ry="14.45"/>
<ellipse cx="1858.0" cy="544.6" rx="14.55" ry="14.45"/>
<ellipse cx="1867.1" cy="594.7" rx="14.55" ry="14.45"/>
<ellipse cx="1876.3" cy="650.6" rx="14.55" ry="14.45"/>
<ellipse cx="1885.4" cy="712.9" rx="14.55" ry="14.45"/>
<ellipse cx="1894.5" cy="782.5" rx="14.55" ry="14.45"/>
<ellipse cx="1903.6" cy="860.1" rx="14.55" ry="14.45"/>
<ellipse cx="1912.8" cy="946.7" rx="14.55" ry="14.45"/>
<ellipse cx="1921.9" cy="1043.3" rx="14.55" ry="14.45"/>
<ellipse cx="1931.0" cy="1151.2" rx="14.55" ry="14.45"/>
<ellipse cx="1940.2" cy="1271.5" rx="14.55" ry="14.45"/>
<ellipse cx="1949.3" cy="1405.7" rx="14.55" ry="14.45"/>
</g>
<g fill="#00ff00" stroke="none">
<polyline fill="none" stroke="#00ff00" stroke-width="11" stroke-linejoin="round" stroke-linecap="round" points="232.4,104.4 241.5,104.5 250.7,104.6 259.8,104.7 268.9,104.8 278.1,104.9 287.2,105.0 296.3,105.1 305.5,105.2 314.6,105.3 323.7,105.4 332.9,105.5 342.0,105.6 351.1,105.7 360.3,105.8 369.4,105.9 378.5,106.0 387.7,106.1 396.8,106.2 405.9,106.3 415.0,106.4 424.2,106.5 433.3,106.6 442.4,106.7 451.6,106.8 460.7,106.9 469.8,107.0 479.0,107.1 488.1,107.2 497.2,107.3 506.4,107.4 515.5,107.5 524.6,107.6 533.8,107.7 542.9,107.8 552.0,107.9 561.2,107.9 570.3,108.0 579.4,108.1 588.6,108.2 597.7,108.3 606.8,108.4 616.0,108.5 625.1,108.6 634.2,108.7 643.4,108.8 652.5,108.9 661.6,109.0 670.8,109.1 679.9,109.2 689.0,109.3 698.2,109.4 707.3,109.5 716.4,109.6 725.6,109.7 734.7,109.8 743.8,109.9 753.0,110.0 762.1,110.1 771.2,110.2 780.3,110.3 789.5,110.4 798.6,110.5 807.7,110.6 816.9,110.7 826.0,110.8 835.1,110.9 844.3,111.0 853.4,111.1 862.5,111.2 871.7,111.3 880.8,111.4 889.9,111.5 899.1,111.6 908.2,111.7 917.3,111.8 926.5,111.9 935.6,112.0 944.7,112.1 953.9,112.2 963.0,112.3 972.1,112.4 981.3,112.5 990.4,112.6 999.5,112.7 1008.7,112.8 1017.8,112.9 1026.9,113.0 1036.1,113.1 1045.2,113.2 1054.3,113.3 1063.5,113.4 1072.6,113.5 1081.7,113.6 1090.9,113.7 1100.0,113.8 1109.1,113.9 1118.3,114.0 1127.4,114.1 1136.5,114.2 1145.7,114.3 1154.8,114.5 1163.9,114.6 1173.0,114.7 1182.2,114.8 1191.3,114.9 1200.4,115.0 1209.6,115.1 1218.7,115.2 1227.8,115.4 1237.0,115.5 1246.1,115.6 1255.2,115.8 1264.4,115.9 1273.5,116.0 1282.6,116.2 1291.8,116.3 1300.9,116.5 1310.0,116.6 1319.2,116.8 1328.3,117.0 1337.4,117.2 1346.6,117.4 1355.7,117.6 1364.8,117.8 1374.0,118.0 1383.1,118.3 1392.2,118.5 1401.4,118.8 1410.5,119.1 1419.6,119.5 1428.8,119.8 1437.9,120.2 1447.0,120.6 1456.2,121.1 1465.3,121.6 1474.4,122.1 1483.6,122.7 1492.7,123.4 1501.8,124.1 1511.0,124.9 1520.1,125.8 1529.2,126.7 1538.3,127.8 1547.5,129.0 1556.6,130.3 1565.7,131.7 1574.9,133.3 1584.0,135.1 1593.1,137.0 1602.3,139.2 1611.4,141.6 1620.5,144.3 1629.7,147.3 1638.8,150.6 1647.9,154.3 1657.1,158.5 1666.2,163.0 1675.3,168.1 1684.5,173.8 1693.6,180.1 1702.7,187.2 1711.9,195.0 1721.0,203.8 1730.1,213.5 1739.3,224.4 1748.4,236.5 1757.5,250.0 1766.7,265.1 1775.8,281.9 1784.9,300.7 1794.1,321.6 1803.2,344.9 1812.3,370.9 1821.5,399.9 1830.6,432.2 1839.7,468.3 1848.9,508.6 1858.0,553.5 1867.1,603.6 1876.3,659.5 1885.4,721.9 1894.5,791.4 1903.6,869.1 1912.8,955.7 1921.9,1052.4 1931.0,1160.2 1940.2,1280.5 1949.3,1414.8"/>
<ellipse cx="232.4" cy="104.4" rx="14.55" ry="14.45"/>
<ellipse cx="241.5" cy="104.5" rx="14.55" ry="14.45"/>
<ellipse cx="250.7" cy="104.6" rx="14.55" ry="14.45"/>
<ellipse cx="259.8" cy="104.7" rx="14.55" ry="14.45"/>
<ellipse cx="268.9" cy="104.8" rx="14.55" ry="14.45"/>
<ellipse cx="278.1" cy="104.9" rx="14.55" ry="14.45"/>
<ellipse cx="287.2" cy="105.0" rx="14.55" ry="14.45"/>
<ellipse cx="296.3" cy="105.1" rx="14.55" ry="14.45"/>
<ellipse cx="305.5" cy="105.2" rx="14.55" ry="14.45"/>
<ellipse cx="314.6" cy="105.3" rx="14.55" ry="14.45"/>
<ellipse cx="323.7" cy="105.4" rx="14.55" ry="14.45"/>
<ellipse cx="332.9" cy="105.5" rx="14.55" ry="14.45"/>
<ellipse cx="342.0" cy="105.6" rx="14.55" ry="14.45"/>
<ellipse cx="351.1" cy="105.7" rx="14.55" ry="14.45"/>
<ellipse cx="360.3" cy="105.8" rx="14.55" ry="14.45"/>
<ellipse cx="369.4" cy="105.9" rx="14.55" ry="14.45"/>
<ellipse cx="378.5" cy="106.0" rx="14.55" ry="14.45"/>
<ellipse cx="387.7" cy="106.1" rx="14.55" ry="14.45"/>
<ellipse cx="396.8" cy="106.2" rx="14.55" ry="14.45"/>
<ellipse cx="405.9" cy="106.3" rx="14.55" ry="14.45"/>
<ellipse cx="415.0" cy="106.4" rx="14.55" ry="14.45"/>
<ellipse cx="424.2" cy="106.5" rx="14.55" ry="14.45"/>
<ellipse cx="433.3" cy="106.6" rx="14.55" ry="14.45"/>
<ellipse cx="442.4" cy="106.7" rx="14.55" ry="14.45"/>
<ellipse cx="451.6" cy="106.8" rx="14.55" ry="14.45"/>
<ellipse cx="460.7" cy="106.9" rx="14.55" ry="14.45"/>
<ellipse cx="469.8" cy="107.0" rx="14.55" ry="14.45"/>
<ellipse cx="479.0" cy="107.1" rx="14.55" ry="14.45"/>
<ellipse cx="488.1" cy="107.2" rx="14.55" ry="14.45"/>
<ellipse cx="497.2" cy="107.3" rx="14.55" ry="14.45"/>
<ellipse cx="506.4" cy="107.4" rx="14.55" ry="14.45"/>
<ellipse cx="515.5" cy="107.5" rx="14.55" ry="14.45"/>
<ellipse cx="524.6" cy="107.6" rx="14.55" ry="14.45"/>
<ellipse cx="533.8" cy="107.7" rx="14.55" ry="14.45"/>
<ellipse cx="542.9" cy="107.8" rx="14.55" ry="14.45"/>
<ellipse cx="552.0" cy="107.9" rx="14.55" ry="14.45"/>
<ellipse cx="561.2" cy="107.9" rx="14.55" ry="14.45"/>
<ellipse cx="570.3" cy="108.0" rx="14.55" ry="14.45"/>
<ellipse cx="579.4" cy="108.1" rx="14.55" ry="14.45"/>
<ellipse cx="588.6" cy="108.2" rx="14.55" ry="14.45"/>
<ellipse cx="597.7" cy="108.3" rx="14.55" ry="14.45"/>
<ellipse cx="606.8" cy="108.4" rx="14.55" ry="14.45"/>
<ellipse cx="616.0" cy="108.5" rx="14.55" ry="14.45"/>
<ellipse cx="625.1" cy="108.6" rx="14.55" ry="14.45"/>
<ellipse cx="634.2" cy="108.7" rx="14.55" ry="14.45"/>
<ellipse cx="643.4" cy="108.8" rx="14.55" ry="14.45"/>
<ellipse cx="652.5" cy="108.9" rx="14.55" ry="14.45"/>
<ellipse cx="661.6" cy="109.0" rx="14.55" ry="14.45"/>
<ellipse cx="670.8" cy="109.1" rx="14.55" ry="14.45"/>
<ellipse cx="679.9" cy="109.2" rx="14.55" ry="14.45"/>
<ellipse cx="689.0" cy="109.3" rx="14.55" ry="14.45"/>
<ellipse cx="698.2" cy="109.4" rx="14.55" ry="14.45"/>
<ellipse cx="707.3" cy="109.5" rx="14.55" ry="14.45"/>
<ellipse cx="716.4" cy="109.6" rx="14.55" ry="14.45"/>
<ellipse cx="725.6" cy="109.7" rx="14.55" ry="14.45"/>
<ellipse cx="734.7" cy="109.8" rx="14.55" ry="14.45"/>
<ellipse cx="743.8" cy="109.9" rx="14.55" ry="14.45"/>
<ellipse cx="753.0" cy="110.0" rx="14.55" ry="14.45"/>
<ellipse cx="762.1" cy="110.1" rx="14.55" ry="14.45"/>
<ellipse cx="771.2" cy="110.2" rx="14.55" ry="14.45"/>
<ellipse cx="780.3" cy="110.3" rx="14.55" ry="14.45"/>
<ellipse cx="789.5" cy="110.4" rx="14.55" ry="14.45"/>
<ellipse cx="798.6" cy="110.5" rx="14.55" ry="14.45"/>
<ellipse cx="807.7" cy="110.6" rx="14.55" ry="14.45"/>
<ellipse cx="816.9" cy="110.7" rx="14.55" ry="14.45"/>
<ellipse cx="826.0" cy="110.8" rx="14.55" ry="14.45"/>
<ellipse cx="835.1" cy="110.9" rx="14.55" ry="14.45"/>
<ellipse cx="844.3" cy="111.0" rx="14.55" ry="14.45"/>
<ellipse cx="853.4" cy="111.1" rx="14.55" ry="14.45"/>
<ellipse cx="862.5" cy="111.2" rx="14.55" ry="14.45"/>
<ellipse cx="871.7" cy="111.3" rx="14.55" ry="14.45"/>
<ellipse cx="880.8" cy="111.4" rx="14.55" ry="14.45"/>
<ellipse cx="889.9" cy="111.5" rx="14.55" ry="14.45"/>
<ellipse cx="899.1" cy="111.6" rx="14.55" ry="14.45"/>
<ellipse cx="908.2" cy="111.7" rx="14.55" ry="14.45"/>
<ellipse cx="917.3" cy="111.8" rx="14.55" ry="14.45"/>
<ellipse cx="926.5" cy="111.9" rx="14.55" ry="14.45"/>
<ellipse cx="935.6" cy="112.0" rx="14.55" ry="14.45"/>
<ellipse cx="944.7" cy="112.1" rx="14.55" ry="14.45"/>
<ellipse cx="953.9" cy="112.2" rx="14.55" ry="14.45"/>
<ellipse cx="963.0" cy="112.3" rx="14.55" ry="14.45"/>
<ellipse cx="972.1" cy="112.4" rx="14.55" ry="14.45"/>
<ellipse cx="981.3" cy="112.5" rx="14.55" ry="14.45"/>
<ellipse cx="990.4" cy="112.6" rx="14.55" ry="14.45"/>
<ellipse cx="999.5" cy="112.7" rx="14.55" ry="14.45"/>
<ellipse cx="1008.7" cy="112.8" rx="14.55" ry="14.45"/>
<ellipse cx="1017.8" cy="112.9" rx="14.55" ry="14.45"/>
<ellipse cx="1026.9" cy="113.0" rx="14.55" ry="14.45"/>
<ellipse cx="1036.1" cy="113.1" rx="14.55" ry="14.45"/>
<ellipse cx="1045.2" cy="113.2" rx="14.55" ry="14.45"/>
<ellipse cx="1054.3" cy="113.3" rx="14.55" ry="14.45"/>
<ellipse cx="1063.5" cy="113.4" rx="14.55" ry="14.45"/>
<ellipse cx="1072.6" cy="113.5" rx="14.55" ry="14.45"/>
<ellipse cx="1081.7" cy="113.6" rx="14.55" ry="14.45"/>
<ellipse cx="1090.9" cy="113.7" rx="14.55" ry="14.45"/>
<ellipse cx="1100.0" cy="113.8" rx="14.55" ry="14.45"/>
<ellipse cx="1109.1" cy="113.9" rx="14.55" ry="14.45"/>
<ellipse cx="1118.3" cy="114.0" rx="14.55" ry="14.45"/>
<ellipse cx="1127.4" cy="114.1" rx="14.55" ry="14.45"/>
<ellipse cx="1136.5" cy="114.2" rx="14.55" ry="14.45"/>
<ellipse cx="1145.7" cy="114.3" rx="14.55" ry="14.45"/>
<ellipse cx="1154.8" cy="114.5" rx="14.55" ry="14.45"/>
<ellipse cx="1163.9" cy="114.6" rx="14.55" ry="14.45"/>
<ellipse cx="1173.0" cy="114.7" rx="14.55" ry="14.45"/>
<ellipse cx="1182.2" cy="114.8" rx="14.55" ry="14.45"/>
<ellipse cx="1191.3" cy="114.9" rx="14.55" ry="14.45"/>
<ellipse cx="1200.4" cy="115.0" rx="14.55" ry="14.45"/>
<ellipse cx="1209.6" cy="115.1" rx="14.55" ry="14.45"/>
<ellipse cx="1218.7" cy="115.2" rx="14.55" ry="14.45"/>
<ellipse cx="1227.8" cy="115.4" rx="14.55" ry="14.45"/>
<ellipse cx="1237.0" cy="115.5" rx="14.55" ry="14.45"/>
<ellipse cx="1246.1" cy="115.6" rx="14.55" ry="14.45"/>
<ellipse cx="1255.2" cy="115.8" rx="14.55" ry="14.45"/>
<ellipse cx="1264.4" cy="115.9" rx="14.55" ry="14.45"/>
<ellipse cx="1273.5" cy="116.0" rx="14.55" ry="14.45"/>
<ellipse cx="1282.6" cy="116.2" rx="14.55" ry="14.45"/>
<ellipse cx="1291.8" cy="116.3" rx="14.55" ry="14.45"/>
<ellipse cx="1300.9" cy="116.5" rx="14.55" ry="14.45"/>
<ellipse cx="1310.0" cy="116.6" rx="14.55" ry="14.45"/>
<ellipse cx="1319.2" cy="116.8" rx="14.55" ry="14.45"/>
<ellipse cx="1328.3" cy="117.0" rx="14.55" ry="14.45"/>
<ellipse cx="1337.4" cy="117.2" rx="14.55" ry="14.45"/>
<ellipse cx="1346.6" cy="117.4" rx="14.55" ry="14.45"/>
<ellipse cx="1355.7" cy="117.6" rx="14.55" ry="14.45"/>
<ellipse cx="1364.8" cy="117.8" rx="14.55" ry="14.45"/>
<ellipse cx="1374.0" cy="118.0" rx="14.55" ry="14.45"/>
<ellipse cx="1383.1" cy="118.3" rx="14.55" ry="14.45"/>
<ellipse cx="1392.2" cy="118.5" rx="14.55" ry="14.45"/>
<ellipse cx="1401.4" cy="118.8" rx="14.55" ry="14.45"/>
<ellipse cx="1410.5" cy="119.1" rx="14.55" ry="14.45"/>
<ellipse cx="1419.6" cy="119.5" rx="14.55" ry="14.45"/>
<ellipse cx="1428.8" cy="119.8" rx="14.55" ry="14.45"/>
<ellipse cx="1437.9" cy="120.2" rx="14.55" ry="14.45"/>
<ellipse cx="1447.0" cy="120.6" rx="14.55" ry="14.45"/>
<ellipse cx="1456.2" cy="121.1" rx="14.55" ry="14.45"/>
<ellipse cx="1465.3" cy="121.6" rx="14.55" ry="14.45"/>
<ellipse cx="1474.4" cy="122.1" rx="14.55" ry="14.45"/>
<ellipse cx="1483.6" cy="122.7" rx="14.55" ry="14.45"/>
<ellipse cx="1492.7" cy="123.4" rx="14.55" ry="14.45"/>
<ellipse cx="1501.8" cy="124.1" rx="14.55" ry="14.45"/>
<ellipse cx="1511.0" cy="124.9" rx="14.55" ry="14.45"/>
<ellipse cx="1520.1" cy="125.8" rx="14.55" ry="14.45"/>
<ellipse cx="1529.2" cy="126.7" rx="14.55" ry="14.45"/>
<ellipse cx="1538.3" cy="127.8" rx="14.55" ry="14.45"/>
<ellipse cx="1547.5" cy="129.0" rx="14.55" ry="14.45"/>
<ellipse cx="1556.6" cy="130.3" rx="14.55" ry="14.45"/>
<ellipse cx="1565.7" cy="131.7" rx="14.55" ry="14.45"/>
<ellipse cx="1574.9" cy="133.3" rx="14.55" ry="14.45"/>
<ellipse cx="1584.0" cy="135.1" rx="14.55" ry="14.45"/>
<ellipse cx="1593.1" cy="137.0" rx="14.55" ry="14.45"/>
<ellipse cx="1602.3" cy="139.2" rx="14.55" ry="14.45"/>
<ellipse cx="1611.4" cy="141.6" rx="14.55" ry="14.45"/>
<ellipse cx="1620.5" cy="144.3" rx="14.55" ry="14.45"/>
<ellipse cx="1629.7" cy="147.3" rx="14.55" ry="14.45"/>
<ellipse cx="1638.8" cy="150.6" rx="14.55" ry="14.45"/>
<ellipse cx="1647.9" cy="154.3" rx="14.55" ry="14.45"/>
<ellipse cx="1657.1" cy="158.5" rx="14.55" ry="14.45"/>
<ellipse cx="1666.2" cy="163.0" rx="14.55" ry="14.45"/>
<ellipse cx="1675.3" cy="168.1" rx="14.55" ry="14.45"/>
<ellipse cx="1684.5" cy="173.8" rx="14.55" ry="14.45"/>
<ellipse cx="1693.6" cy="180.1" rx="14.55" ry="14.45"/>
<ellipse cx="1702.7" cy="187.2" rx="14.55" ry="14.45"/>
<ellipse cx="1711.9" cy="195.0" rx="14.55" ry="14.45"/>
<ellipse cx="1721.0" cy="203.8" rx="14.55" ry="14.45"/>
<ellipse cx="1730.1" cy="213.5" rx="14.55" ry="14.45"/>
<ellipse cx="1739.3" cy="224.4" rx="14.55" ry="14.45"/>
<ellipse cx="1748.4" cy="236.5" rx="14.55" ry="14.45"/>
<ellipse cx="1757.5" cy="250.0" rx="14.55" ry="14.45"/>
<ellipse cx="1766.7" cy="265.1" rx="14.55" ry="14.45"/>
<ellipse cx="1775.8" cy="281.9" rx="14.55" ry="14.45"/>
<ellipse cx="1784.9" cy="300.7" rx="14.55" ry="14.45"/>
<ellipse cx="1794.1" cy="321.6" rx="14.55" ry="14.45"/>
<ellipse cx="1803.2" cy="344.9" rx="14.55" ry="14.45"/>
<ellipse cx="1812.3" cy="370.9" rx="14.55" ry="14.45"/>
<ellipse cx="1821.5" cy="399.9" rx="14.55" ry="14.45"/>
<ellipse cx="1830.6" cy="432.2" rx="14.55" ry="14.45"/>
<ellipse cx="1839.7" cy="468.3" rx="14.55" ry="14.45"/>
<ellipse cx="1848.9" cy="508.6" rx="14.55" ry="14.45"/>
<ellipse cx="1858.0" cy="553.5" rx="14.55" ry="14.45"/>
<ellipse cx="1867.1" cy="603.6" rx="14.55" ry="14.45"/>
<ellipse cx="1876.3" cy="659.5" rx="14.55" ry="14.45"/>
<ellipse cx="1885.4" cy="721.9" rx="14.55" ry="14.45"/>
<ellipse cx="1894.5" cy="791.4" rx="14.55" ry="14.45"/>
<ellipse cx="1903.6" cy="869.1" rx="14.55" ry="14.45"/>
<ellipse cx="1912.8" cy="955.7" rx="14.55" ry="14.45"/>
<ellipse cx="1921.9" cy="1052.4" rx="14.55" ry="14.45"/>
<ellipse cx="1931.0" cy="1160.2" rx="14.55" ry="14.45"/>
<ellipse cx="1940.2" cy="1280.5" rx="14.55" ry="14.45"/>
<ellipse cx="1949.3" cy="1414.8" rx="14.55" ry="14.45"/>
</g>
<g fill="#ff00ff" stroke="none">
<polyline fill="none" stroke="#ff00ff" stroke-width="11" stroke-linejoin="round" stroke-linecap="round" points="232.4,113.2 241.5,113.3 250.7,113.4 259.8,113.5 268.9,113.6 278.1,113.7 287.2,113.8 296.3,113.9 305.5,114.0 314.6,114.1 323.7,114.2 332.9,114.3 342.0,114.4 351.1,114.5 360.3,114.6 369.4,114.7 378.5,114.8 387.7,114.9 396.8,115.0 405.9,115.1 415.0,115.2 424.2,115.3 433.3,115.4 442.4,115.5 451.6,115.6 460.7,115.7 469.8,115.8 479.0,115.9 488.1,116.0 497.2,116.1 506.4,116.2 515.5,116.3 524.6,116.4 533.8,116.5 542.9,116.6 552.0,116.7 561.2,116.8 570.3,116.9 579.4,117.0 588.6,117.1 597.7,117.2 606.8,117.3 616.0,117.4 625.1,117.5 634.2,117.6 643.4,117.7 652.5,117.8 661.6,117.9 670.8,118.0 679.9,118.1 689.0,118.2 698.2,118.3 707.3,118.4 716.4,118.5 725.6,118.6 734.7,118.7 743.8,118.8 753.0,118.9 762.1,119.0 771.2,119.1 780.3,119.2 789.5,119.3 798.6,119.4 807.7,119.5 816.9,119.6 826.0,119.7 835.1,119.7 844.3,119.8 853.4,119.9 862.5,120.0 871.7,120.1 880.8,120.2 889.9,120.3 899.1,120.4 908.2,120.5 917.3,120.6 926.5,120.7 935.6,120.8 944.7,120.9 953.9,121.0 963.0,121.1 972.1,121.2 981.3,121.3 990.4,121.4 999.5,121.5 1008.7,121.6 1017.8,121.7 1026.9,121.8 1036.1,121.9 1045.2,122.0 1054.3,122.1 1063.5,122.2 1072.6,122.3 1081.7,122.4 1090.9,122.6 1100.0,122.7 1109.1,122.8 1118.3,122.9 1127.4,123.0 1136.5,123.1 1145.7,123.2 1154.8,123.3 1163.9,123.4 1173.0,123.5 1182.2,123.6 1191.3,123.7 1200.4,123.9 1209.6,124.0 1218.7,124.1 1227.8,124.2 1237.0,124.3 1246.1,124.5 1255.2,124.6 1264.4,124.7 1273.5,124.9 1282.6,125.0 1291.8,125.2 1300.9,125.3 1310.0,125.5 1319.2,125.6 1328.3,125.8 1337.4,126.0 1346.6,126.2 1355.7,126.4 1364.8,126.6 1374.0,126.9 1383.1,127.1 1392.2,127.4 1401.4,127.7 1410.5,128.0 1419.6,128.3 1428.8,128.6 1437.9,129.0 1447.0,129.5 1456.2,129.9 1465.3,130.4 1474.4,131.0 1483.6,131.6 1492.7,132.2 1501.8,132.9 1511.0,133.7 1520.1,134.6 1529.2,135.6 1538.3,136.6 1547.5,137.8 1556.6,139.1 1565.7,140.5 1574.9,142.1 1584.0,143.9 1593.1,145.9 1602.3,148.1 1611.4,150.5 1620.5,153.2 1629.7,156.1 1638.8,159.5 1647.9,163.2 1657.1,167.3 1666.2,171.9 1675.3,177.0 1684.5,182.6 1693.6,189.0 1702.7,196.0 1711.9,203.9 1721.0,212.6 1730.1,222.4 1739.3,233.2 1748.4,245.3 1757.5,258.8 1766.7,273.9 1775.8,290.7 1784.9,309.4 1794.1,330.3 1803.2,353.6 1812.3,379.6 1821.5,408.6 1830.6,441.0 1839.7,477.1 1848.9,517.3 1858.0,562.2 1867.1,612.3 1876.3,668.2 1885.4,730.5 1894.5,800.1 1903.6,877.7 1912.8,964.3 1921.9,1060.9 1931.0,1168.8 1940.2,1289.0 1949.3,1423.3"/>
<ellipse cx="232.4" cy="113.2" rx="14.55" ry="14.45"/>
<ellipse cx="241.5" cy="113.3" rx="14.55" ry="14.45"/>
<ellipse cx="250.7" cy="113.4" rx="14.55" ry="14.45"/>
<ellipse cx="259.8" cy="113.5" rx="14.55" ry="14.45"/>
<ellipse cx="268.9" cy="113.6" rx="14.55" ry="14.45"/>
<ellipse cx="278.1" cy="113.7" rx="14.55" ry="14.45"/>
<ellipse cx="287.2" cy="113.8" rx="14.55" ry="14.45"/>
<ellipse cx="296.3" cy="113.9" rx="14.55" ry="14.45"/>
<ellipse cx="305.5" cy="114.0" rx="14.55" ry="14.45"/>
<ellipse cx="314.6" cy="114.1" rx="14.55" ry="14.45"/>
<ellipse cx="323.7" cy="114.2" rx="14.55" ry="14.45"/>
<ellipse cx="332.9" cy="114.3" rx="14.55" ry="14.45"/>
<ellipse cx="342.0" cy="114.4" rx="14.55" ry="14.45"/>
<ellipse cx="351.1" cy="114.5" rx="14.55" ry="14.45"/>
<ellipse cx="360.3" cy="114.6" rx="14.55" ry="14.45"/>
<ellipse cx="369.4" cy="114.7" rx="14.55" ry="14.45"/>
<ellipse cx="378.5" cy="114.8" rx="14.55" ry="14.45"/>
<ellipse cx="387.7" cy="114.9" rx="14.55" ry="14.45"/>
<ellipse cx="396.8" cy="115.0" rx="14.55" ry="14.45"/>
<ellipse cx="405.9" cy="115.1" rx="14.55" ry="14.45"/>
<ellipse cx="415.0" cy="115.2" rx="14.55" ry="14.45"/>
<ellipse cx="424.2" cy="115.3" rx="14.55" ry="14.45"/>
<ellipse cx="433.3" cy="115.4" rx="14.55" ry="14.45"/>
<ellipse cx="442.4" cy="115.5" rx="14.55" ry="14.45"/>
<ellipse cx="451.6" cy="115.6" rx="14.55" ry="14.45"/>
<ellipse cx="460.7" cy="115.7" rx="14.55" ry="14.45"/>
<ellipse cx="469.8" cy="115.8" rx="14.55" ry="14.45"/>
<ellipse cx="479.0" cy="115.9" rx="14.55" ry="14.45"/>
<ellipse cx="488.1" cy="116.0" rx="14.55" ry="14.45"/>
<ellipse cx="497.2" cy="116.1" rx="14.55" ry="14.45"/>
<ellipse cx="506.4" cy="116.2" rx="14.55" ry="14.45"/>
<ellipse cx="515.5" cy="116.3" rx="14.55" ry="14.45"/>
<ellipse cx="524.6" cy="116.4" rx="14.55" ry="14.45"/>
<ellipse cx="533.8" cy="116.5" rx="14.55" ry="14.45"/>
<ellipse cx="542.9" cy="116.6" rx="14.55" ry="14.45"/>
<ellipse cx="552.0" cy="116.7" rx="14.55" ry="14.45"/>
<ellipse cx="561.2" cy="116.8" rx="14.55" ry="14.45"/>
<ellipse cx="570.3" cy="116.9" rx="14.55" ry="14.45"/>
<ellipse cx="579.4" cy="117.0" rx="14.55" ry="14.45"/>
<ellipse cx="588.6" cy="117.1" rx="14.55" ry="14.45"/>
<ellipse cx="597.7" cy="117.2" rx="14.55" ry="14.45"/>
<ellipse cx="606.8" cy="117.3" rx="14.55" ry="14.45"/>
<ellipse cx="616.0" cy="117.4" rx="14.55" ry="14.45"/>
<ellipse cx="625.1" cy="117.5" rx="14.55" ry="14.45"/>
<ellipse cx="634.2" cy="117.6" rx="14.55" ry="14.45"/>
<ellipse cx="643.4" cy="117.7" rx="14.55" ry="14.45"/>
<ellipse cx="652.5" cy="117.8" rx="14.55" ry="14.45"/>
<ellipse cx="661.6" cy="117.9" rx="14.55" ry="14.45"/>
<ellipse cx="670.8" cy="118.0" rx="14.55" ry="14.45"/>
<ellipse cx="679.9" cy="118.1" rx="14.55" ry="14.45"/>
<ellipse cx="689.0" cy="118.2" rx="14.55" ry="14.45"/>
<ellipse cx="698.2" cy="118.3" rx="14.55" ry="14.45"/>
<ellipse cx="707.3" cy="118.4" rx="14.55" ry="14.45"/>
<ellipse cx="716.4" cy="118.5" rx="14.55" ry="14.45"/>
<ellipse cx="725.6" cy="118.6" rx="14.55" ry="14.45"/>
<ellipse cx="734.7" cy="118.7" rx="14.55" ry="14.45"/>
<ellipse cx="743.8" cy="118.8" rx="14.55" ry="14.45"/>
<ellipse cx="753.0" cy="118.9" rx="14.55" ry="14.45"/>
<ellipse cx="762.1" cy="119.0" rx="14.55" ry="14.45"/>
<ellipse cx="771.2" cy="119.1" rx="14.55" ry="14.45"/>
<ellipse cx="780.3" cy="119.2" rx="14.55" ry="14.45"/>
<ellipse cx="789.5" cy="119.3" rx="14.55" ry="14.45"/>
<ellipse cx="798.6" cy="119.4" rx="14.55" ry="14.45"/>
<ellipse cx="807.7" cy="119.5" rx="14.55" ry="14.45"/>
<ellipse cx="816.9" cy="119.6" rx="14.55" ry="14.45"/>
<ellipse cx="826.0" cy="119.7" rx="14.55" ry="14.45"/>
<ellipse cx="835.1" cy="119.7" rx="14.55" ry="14.45"/>
<ellipse cx="844.3" cy="119.8" rx="14.55" ry="14.45"/>
<ellipse cx="853.4" cy="119.9" rx="14.55" ry="14.45"/>
<ellipse cx="862.5" cy="120.0" rx="14.55" ry="14.45"/>
<ellipse cx="871.7" cy="120.1" rx="14.55" ry="14.45"/>
<ellipse cx="880.8" cy="120.2" rx="14.55" ry="14.45"/>
<ellipse cx="889.9" cy="120.3" rx="14.55" ry="14.45"/>
<ellipse cx="899.1" cy="120.4" rx="14.55" ry="14.45"/>
<ellipse cx="908.2" cy="120.5" rx="14.55" ry="14.45"/>
<ellipse cx="917.3" cy="120.6" rx="14.55" ry="14.45"/>
<ellipse cx="926.5" cy="120.7" rx="14.55" ry="14.45"/>
<ellipse cx="935.6" cy="120.8" rx="14.55" ry="14.45"/>
<ellipse cx="944.7" cy="120.9" rx="14.55" ry="14.45"/>
<ellipse cx="953.9" cy="121.0" rx="14.55" ry="14.45"/>
<ellipse cx="963.0" cy="121.1" rx="14.55" ry="14.45"/>
<ellipse cx="972.1" cy="121.2" rx="14.55" ry="14.45"/>
<ellipse cx="981.3" cy="121.3" rx="14.55" ry="14.45"/>
<ellipse cx="990.4" cy="121.4" rx="14.55" ry="14.45"/>
<ellipse cx="999.5" cy="121.5" rx="14.55" ry="14.45"/>
<ellipse cx="1008.7" cy="121.6" rx="14.55" ry="14.45"/>
<ellipse cx="1017.8" cy="121.7" rx="14.55" ry="14.45"/>
<ellipse cx="1026.9" cy="121.8" rx="14.55" ry="14.45"/>
<ellipse cx="1036.1" cy="121.9" rx="14.55" ry="14.45"/>
<ellipse cx="1045.2" cy="122.0" rx="14.55" ry="14.45"/>
<ellipse cx="1054.3" cy="122.1" rx="14.55" ry="14.45"/>
<ellipse cx="1063.5" cy="122.2" rx="14.55" ry="14.45"/>
<ellipse cx="1072.6" cy="122.3" rx="14.55" ry="14.45"/>
<ellipse cx="1081.7" cy="122.4" rx="14.55" ry="14.45"/>
<ellipse cx="1090.9" cy="122.6" rx="14.55" ry="14.45"/>
<ellipse cx="1100.0" cy="122.7" rx="14.55" ry="14.45"/>
<ellipse cx="1109.1" cy="122.8" rx="14.55" ry="14.45"/>
<ellipse cx="1118.3" cy="122.9" rx="14.55" ry="14.45"/>
<ellipse cx="1127.4" cy="123.0" rx="14.55" ry="14.45"/>
<ellipse cx="1136.5" cy="123.1" rx="14.55" ry="14.45"/>
<ellipse cx="1145.7" cy="123.2" rx="14.55" ry="14.45"/>
<ellipse cx="1154.8" cy="123.3" rx="14.55" ry="14.45"/>
<ellipse cx="1163.9" cy="123.4" rx="14.55" ry="14.45"/>
<ellipse cx="1173.0" cy="123.5" rx="14.55" ry="14.45"/>
<ellipse cx="1182.2" cy="123.6" rx="14.55" ry="14.45"/>
<ellipse cx="1191.3" cy="123.7" rx="14.55" ry="14.45"/>
<ellipse cx="1200.4" cy="123.9" rx="14.55" ry="14.45"/>
<ellipse cx="1209.6" cy="124.0" rx="14.55" ry="14.45"/>
<ellipse cx="1218.7" cy="124.1" rx="14.55" ry="14.45"/>
<ellipse cx="1227.8" cy="124.2" rx="14.55" ry="14.45"/>
<ellipse cx="1237.0" cy="124.3" rx="14.55" ry="14.45"/>
<ellipse cx="1246.1" cy="124.5" rx="14.55" ry="14.45"/>
<ellipse cx="1255.2" cy="124.6" rx="14.55" ry="14.45"/>
<ellipse cx="1264.4" cy="124.7" rx="14.55" ry="14.45"/>
<ellipse cx="1273.5" cy="124.9" rx="14.55" ry="14.45"/>
<ellipse cx="1282.6" cy="125.0" rx="14.55" ry="14.45"/>
<ellipse cx="1291.8" cy="125.2" rx="14.55" ry="14.45"/>
<ellipse cx="1300.9" cy="125.3" rx="14.55" ry="14.45"/>
<ellipse cx="1310.0" cy="125.5" rx="14.55" ry="14.45"/>
<ellipse cx="1319.2" cy="125.6" rx="14.55" ry="14.45"/>
<ellipse cx="1328.3" cy="125.8" rx="14.55" ry="14.45"/>
<ellipse cx="1337.4" cy="126.0" rx="14.55" ry="14.45"/>
<ellipse cx="1346.6" cy="126.2" rx="14.55" ry="14.45"/>
<ellipse cx="1355.7" cy="126.4" rx="14.55" ry="14.45"/>
<ellipse cx="1364.8" cy="126.6" rx="14.55" ry="14.45"/>
<ellipse cx="1374.0" cy="126.9" rx="14.55" ry="14.45"/>
<ellipse cx="1383.1" cy="127.1" rx="14.55" ry="14.45"/>
<ellipse cx="1392.2" cy="127.4" rx="14.55" ry="14.45"/>
<ellipse cx="1401.4" cy="127.7" rx="14.55" ry="14.45"/>
<ellipse cx="1410.5" cy="128.0" rx="14.55" ry="14.45"/>
<ellipse cx="1419.6" cy="128.3" rx="14.55" ry="14.45"/>
<ellipse cx="1428.8" cy="128.6" rx="14.55" ry="14.45"/>
<ellipse cx="1437.9" cy="129.0" rx="14.55" ry="14.45"/>
<ellipse cx="1447.0" cy="129.5" rx="14.55" ry="14.45"/>
<ellipse cx="1456.2" cy="129.9" rx="14.55" ry="14.45"/>
<ellipse cx="1465.3" cy="130.4" rx="14.55" ry="14.45"/>
<ellipse cx="1474.4" cy="131.0" rx="14.55" ry="14.45"/>
<ellipse cx="1483.6" cy="131.6" rx="14.55" ry="14.45"/>
<ellipse cx="1492.7" cy="132.2" rx="14.55" ry="14.45"/>
<ellipse cx="1501.8" cy="132.9" rx="14.55" ry="14.45"/>
<ellipse cx="1511.0" cy="133.7" rx="14.55" ry="14.45"/>
<ellipse cx="1520.1" cy="134.6" rx="14.55" ry="14.45"/>
<ellipse cx="1529.2" cy="135.6" rx="14.55" ry="14.45"/>
<ellipse cx="1538.3" cy="136.6" rx="14.55" ry="14.45"/>
<ellipse cx="1547.5" cy="137.8" rx="14.55" ry="14.45"/>
<ellipse cx="1556.6" cy="139.1" rx="14.55" ry="14.45"/>
<ellipse cx="1565.7" cy="140.5" rx="14.55" ry="14.45"/>
<ellipse cx="1574.9" cy="142.1" rx="14.55" ry="14.45"/>
<ellipse cx="1584.0" cy="143.9" rx="14.55" ry="14.45"/>
<ellipse cx="1593.1" cy="145.9" rx="14.55" ry="14.45"/>
<ellipse cx="1602.3" cy="148.1" rx="14.55" ry="14.45"/>
<ellipse cx="1611.4" cy="150.5" rx="14.55" ry="14.45"/>
<ellipse cx="1620.5" cy="153.2" rx="14.55" ry="14.45"/>
<ellipse cx="1629.7" cy="156.1" rx="14.55" ry="14.45"/>
<ellipse cx="1638.8" cy="159.5" rx="14.55" ry="14.45"/>
<ellipse cx="1647.9" cy="163.2" rx="14.55" ry="14.45"/>
<ellipse cx="1657.1" cy="167.3" rx="14.55" ry="14.45"/>
<ellipse cx="1666.2" cy="171.9" rx="14.55" ry="14.45"/>
<ellipse cx="1675.3" cy="177.0" rx="14.55" ry="14.45"/>
<ellipse cx="1684.5" cy="182.6" rx="14.55" ry="14.45"/>
<ellipse cx="1693.6" cy="189.0" rx="14.55" ry="14.45"/>
<ellipse cx="1702.7" cy="196.0" rx="14.55" ry="14.45"/>
<ellipse cx="1711.9" cy="203.9" rx="14.55" ry="14.45"/>
<ellipse cx="1721.0" cy="212.6" rx="14.55" ry="14.45"/>
<ellipse cx="1730.1" cy="222.4" rx="14.55" ry="14.45"/>
<ellipse cx="1739.3" cy="233.2" rx="14.55" ry="14.45"/>
<ellipse cx="1748.4" cy="245.3" rx="14.55" ry="14.45"/>
<ellipse cx="1757.5" cy="258.8" rx="14.55" ry="14.45"/>
<ellipse cx="1766.7" cy="273.9" rx="14.55" ry="14.45"/>
<ellipse cx="1775.8" cy="290.7" rx="14.55" ry="14.45"/>
<ellipse cx="1784.9" cy="309.4" rx="14.55" ry="14.45"/>
<ellipse cx="1794.1" cy="330.3" rx="14.55" ry="14.45"/>
<ellipse cx="1803.2" cy="353.6" rx="14.55" ry="14.45"/>
<ellipse cx="1812.3" cy="379.6" rx="14.55" ry="14.45"/>
<ellipse cx="1821.5" cy="408.6" rx="14.55" ry="14.45"/>
<ellipse cx="1830.6" cy="441.0" rx="14.55" ry="14.45"/>
<ellipse cx="1839.7" cy="477.1" rx="14.55" ry="14.45"/>
<ellipse cx="1848.9" cy="517.3" rx="14.55" ry="14.45"/>
<ellipse cx="1858.0" cy="562.2" rx="14.55" ry="14.45"/>
<ellipse cx="1867.1" cy="612.3" rx="14.55" ry="14.45"/>
<ellipse cx="1876.3" cy="668.2" rx="14.55" ry="14.45"/>
<ellipse cx="1885.4" cy="730.5" rx="14.55" ry="14.45"/>
<ellipse cx="1894.5" cy="800.1" rx="14.55" ry="14.45"/>
<ellipse cx="1903.6" cy="877.7" rx="14.55" ry="14.45"/>
<ellipse cx="1912.8" cy="964.3" rx="14.55" ry="14.45"/>
<ellipse cx="1921.9" cy="1060.9" rx="14.55" ry="14.45"/>
<ellipse cx="1931.0" cy="1168.8" rx="14.55" ry="14.45"/>
<ellipse cx="1940.2" cy="1289.0" rx="14.55" ry="14.45"/>
<ellipse cx="1949.3" cy="1423.3" rx="14.55" ry="14.45"/>
</g>
<g fill="#ff8000" stroke="none">
<polyline fill="none" stroke="#ff8000" stroke-width="11" stroke-linejoin="round" stroke-linecap="round" points="232.4,121.4 241.5,121.5 250.7,121.6 259.8,121.7 268.9,121.8 278.1,121.9 287.2,122.0 296.3,122.1 305.5,122.2 314.6,122.3 323.7,122.4 332.9,122.5 342.0,122.6 351.1,122.7 360.3,122.8 369.4,122.9 378.5,123.0 387.7,123.1 396.8,123.2 405.9,123.3 415.0,123.4 424.2,123.5 433.3,123.6 442.4,123.7 451.6,123.8 460.7,123.9 469.8,124.0 479.0,124.1 488.1,124.2 497.2,124.3 506.4,124.4 515.5,124.5 524.6,124.6 533.8,124.7 542.9,124.8 552.0,124.9 561.2,124.9 570.3,125.0 579.4,125.1 588.6,125.2 597.7,125.3 606.8,125.4 616.0,125.5 625.1,125.6 634.2,125.7 643.4,125.8 652.5,125.9 661.6,126.0 670.8,126.1 679.9,126.2 689.0,126.3 698.2,126.4 707.3,126.5 716.4,126.6 725.6,126.7 734.7,126.8 743.8,126.9 753.0,127.0 762.1,127.1 771.2,127.2 780.3,127.3 789.5,127.4 798.6,127.5 807.7,127.6 816.9,127.7 826.0,127.8 835.1,127.9 844.3,128.0 853.4,128.1 862.5,128.2 871.7,128.3 880.8,128.4 889.9,128.5 899.1,128.6 908.2,128.7 917.3,128.8 926.5,128.9 935.6,129.0 944.7,129.1 953.9,129.2 963.0,129.3 972.1,129.4 981.3,129.5 990.4,129.6 999.5,129.7 1008.7,129.8 1017.8,129.9 1026.9,130.0 1036.1,130.1 1045.2,130.2 1054.3,130.3 1063.5,130.4 1072.6,130.5 1081.7,130.6 1090.9,130.7 1100.0,130.8 1109.1,130.9 1118.3,131.0 1127.4,131.1 1136.5,131.2 1145.7,131.3 1154.8,131.5 1163.9,131.6 1173.0,131.7 1182.2,131.8 1191.3,131.9 1200.4,132.0 1209.6,132.1 1218.7,132.2 1227.8,132.4 1237.0,132.5 1246.1,132.6 1255.2,132.8 1264.4,132.9 1273.5,133.0 1282.6,133.2 1291.8,133.3 1300.9,133.5 1310.0,133.6 1319.2,133.8 1328.3,134.0 1337.4,134.2 1346.6,134.4 1355.7,134.6 1364.8,134.8 1374.0,135.0 1383.1,135.3 1392.2,135.5 1401.4,135.8 1410.5,136.1 1419.6,136.4 1428.8,136.8 1437.9,137.2 1447.0,137.6 1456.2,138.1 1465.3,138.6 1474.4,139.1 1483.6,139.7 1492.7,140.4 1501.8,141.1 1511.0,141.9 1520.1,142.8 1529.2,143.7 1538.3,144.8 1547.5,146.0 1556.6,147.3 1565.7,148.7 1574.9,150.3 1584.0,152.1 1593.1,154.0 1602.3,156.2 1611.4,158.6 1620.5,161.3 1629.7,164.3 1638.8,167.6 1647.9,171.3 1657.1,175.4 1666.2,180.0 1675.3,185.1 1684.5,190.7 1693.6,197.0 1702.7,204.1 1711.9,211.9 1721.0,220.6 1730.1,230.4 1739.3,241.2 1748.4,253.3 1757.5,266.8 1766.7,281.9 1775.8,298.7 1784.9,317.4 1794.1,338.2 1803.2,361.5 1812.3,387.5 1821.5,416.4 1830.6,448.7 1839.7,484.7 1848.9,524.9 1858.0,569.8 1867.1,619.8 1876.3,675.6 1885.4,737.9 1894.5,807.3 1903.6,884.9 1912.8,971.3 1921.9,1067.8 1931.0,1175.5 1940.2,1295.6 1949.3,1429.7"/>
<ellipse cx="232.4" cy="121.4" rx="14.55" ry="14.45"/>
<ellipse cx="241.5" cy="121.5" rx="14.55" ry="14.45"/>
<ellipse cx="250.7" cy="121.6" rx="14.55" ry="14.45"/>
<ellipse cx="259.8" cy="121.7" rx="14.55" ry="14.45"/>
<ellipse cx="268.9" cy="121.8" rx="14.55" ry="14.45"/>
<ellipse cx="278.1" cy="121.9" rx="14.55" ry="14.45"/>
<ellipse cx="287.2" cy="122.0" rx="14.55" ry="14.45"/>
<ellipse cx="296.3" cy="122.1" rx="14.55" ry="14.45"/>
<ellipse cx="305.5" cy="122.2" rx="14.55" ry="14.45"/>
<ellipse cx="314.6" cy="122.3" rx="14.55" ry="14.45"/>
<ellipse cx="323.7" cy="122.4" rx="14.55" ry="14.45"/>
<ellipse cx="332.9" cy="122.5" rx="14.55" ry="14.45"/>
<ellipse cx="342.0" cy="122.6" rx="14.55" ry="14.45"/>
<ellipse cx="351.1" cy="122.7" rx="14.55" ry="14.45"/>
<ellipse cx="360.3" cy="122.8" rx="14.55" ry="14.45"/>
<ellipse cx="369.4" cy="122.9" rx="14.55" ry="14.45"/>
<ellipse cx="378.5" cy="123.0" rx="14.55" ry="14.45"/>
<ellipse cx="387.7" cy="123.1" rx="14.55" ry="14.45"/>
<ellipse cx="396.8" cy="123.2" rx="14.55" ry="14.45"/>
<ellipse cx="405.9" cy="123.3" rx="14.55" ry="14.45"/>
<ellipse cx="415.0" cy="123.4" rx="14.55" ry="14.45"/>
<ellipse cx="424.2" cy="123.5" rx="14.55" ry="14.45"/>
<ellipse cx="433.3" cy="123.6" rx="14.55" ry="14.45"/>
<ellipse cx="442.4" cy="123.7" rx="14.55" ry="14.45"/>
<ellipse cx="451.6" cy="123.8" rx="14.55" ry="14.45"/>
<ellipse cx="460.7" cy="123.9" rx="14.55" ry="14.45"/>
<ellipse cx="469.8" cy="124.0" rx="14.55" ry="14.45"/>
<ellipse cx="479.0" cy="124.1" rx="14.55" ry="14.45"/>
<ellipse cx="488.1" cy="124.2" rx="14.55" ry="14.45"/>
<ellipse cx="497.2" cy="124.3" rx="14.55" ry="14.45"/>
<ellipse cx="506.4" cy="124.4" rx="14.55" ry="14.45"/>
<ellipse cx="515.5" cy="124.5" rx="14.55" ry="14.45"/>
<ellipse cx="524.6" cy="124.6" rx="14.55" ry="14.45"/>
<ellipse cx="533.8" cy="124.7" rx="14.55" ry="14.45"/>
<ellipse cx="542.9" cy="124.8" rx="14.55" ry="14.45"/>
<ellipse cx="552.0" cy="124.9" rx="14.55" ry="14.45"/>
<ellipse cx="561.2" cy="124.9" rx="14.55" ry="14.45"/>
<ellipse cx="570.3" cy="125.0" rx="14.55" ry="14.45"/>
<ellipse cx="579.4" cy="125.1" rx="14.55" ry="14.45"/>
<ellipse cx="588.6" cy="125.2" rx="14.55" ry="14.45"/>
<ellipse cx="597.7" cy="125.3" rx="14.55" ry="14.45"/>
<ellipse cx="606.8" cy="125.4" rx="14.55" ry="14.45"/>
<ellipse cx="616.0" cy="125.5" rx="14.55" ry="14.45"/>
<ellipse cx="625.1" cy="125.6" rx="14.55" ry="14.45"/>
<ellipse cx="634.2" cy="125.7" rx="14.55" ry="14.45"/>
<ellipse cx="643.4" cy="125.8" rx="14.55" ry="14.45"/>
<ellipse cx="652.5" cy="125.9" rx="14.55" ry="14.45"/>
<ellipse cx="661.6" cy="126.0" rx="14.55" ry="14.45"/>
<ellipse cx="670.8" cy="126.1" rx="14.55" ry="14.45"/>
<ellipse cx="679.9" cy="126.2" rx="14.55" ry="14.45"/>
<ellipse cx="689.0" cy="126.3" rx="14.55" ry="14.45"/>
<ellipse cx="698.2" cy="126.4" rx="14.55" ry="14.45"/>
<ellipse cx="707.3" cy="126.5" rx="14.55" ry="14.45"/>
<ellipse cx="716.4" cy="126.6" rx="14.55" ry="14.45"/>
<ellipse cx="725.6" cy="126.7" rx="14.55" ry="14.45"/>
<ellipse cx="734.7" cy="126.8" rx="14.55" ry="14.45"/>
<ellipse cx="743.8" cy="126.9" rx="14.55" ry="14.45"/>
<ellipse cx="753.0" cy="127.0" rx="14.55" ry="14.45"/>
<ellipse cx="762.1" cy="127.1" rx="14.55" ry="14.45"/>
<ellipse cx="771.2" cy="127.2" rx="14.55" ry="14.45"/>
<ellipse cx="780.3" cy="127.3" rx="14.55" ry="14.45"/>
<ellipse cx="789.5" cy="127.4" rx="14.55" ry="14.45"/>
<ellipse cx="798.6" cy="127.5" rx="14.55" ry="14.45"/>
<ellipse cx="807.7" cy="127.6" rx="14.55" ry="14.45"/>
<ellipse cx="816.9" cy="127.7" rx="14.55" ry="14.45"/>
<ellipse cx="826.0" cy="127.8" rx="14.55" ry="14.45"/>
<ellipse cx="835.1" cy="127.9" rx="14.55" ry="14.45"/>
<ellipse cx="844.3" cy="128.0" rx="14.55" ry="14.45"/>
<ellipse cx="853.4" cy="128.1" rx="14.55" ry="14.45"/>
<ellipse cx="862.5" cy="128.2" rx="14.55" ry="14.45"/>
<ellipse cx="871.7" cy="128.3" rx="14.55" ry="14.45"/>
<ellipse cx="880.8" cy="128.4" rx="14.55" ry="14.45"/>
<ellipse cx="889.9" cy="128.5" rx="14.55" ry="14.45"/>
<ellipse cx="899.1" cy="128.6" rx="14.55" ry="14.45"/>
<ellipse cx="908.2" cy="128.7" rx="14.55" ry="14.45"/>
<ellipse cx="917.3" cy="128.8" rx="14.55" ry="14.45"/>
<ellipse cx="926.5" cy="128.9" rx="14.55" ry="14.45"/>
<ellipse cx="935.6" cy="129.0" rx="14.55" ry="14.45"/>
<ellipse cx="944.7" cy="129.1" rx="14.55" ry="14.45"/>
<ellipse cx="953.9" cy="129.2" rx="14.55" ry="14.45"/>
<ellipse cx="963.0" cy="129.3" rx="14.55" ry="14.45"/>
<ellipse cx="972.1" cy="129.4" rx="14.55" ry="14.45"/>
<ellipse cx="981.3" cy="129.5" rx="14.55" ry="14.45"/>
<ellipse cx="990.4" cy="129.6" rx="14.55" ry="14.45"/>
<ellipse cx="999.5" cy="129.7" rx="14.55" ry="14.45"/>
<ellipse cx="1008.7" cy="129.8" rx="14.55" ry="14.45"/>
<ellipse cx="1017.8" cy="129.9" rx="14.55" ry="14.45"/>
<ellipse cx="1026.9" cy="130.0" rx="14.55" ry="14.45"/>
<ellipse cx="1036.1" cy="130.1" rx="14.55" ry="14.45"/>
<ellipse cx="1045.2" cy="130.2" rx="14.55" ry="14.45"/>
<ellipse cx="1054.3" cy="130.3" rx="14.55" ry="14.45"/>
<ellipse cx="1063.5" cy="130.4" rx="14.55" ry="14.45"/>
<ellipse cx="1072.6" cy="130.5" rx="14.55" ry="14.45"/>
<ellipse cx="1081.7" cy="130.6" rx="14.55" ry="14.45"/>
<ellipse cx="1090.9" cy="130.7" rx="14.55" ry="14.45"/>
<ellipse cx="1100.0" cy="130.8" rx="14.55" ry="14.45"/>
<ellipse cx="1109.1" cy="130.9" rx="14.55" ry="14.45"/>
<ellipse cx="1118.3" cy="131.0" rx="14.55" ry="14.45"/>
<ellipse cx="1127.4" cy="131.1" rx="14.55" ry="14.45"/>
<ellipse cx="1136.5" cy="131.2" rx="14.55" ry="14.45"/>
<ellipse cx="1145.7" cy="131.3" rx="14.55" ry="14.45"/>
<ellipse cx="1154.8" cy="131.5" rx="14.55" ry="14.45"/>
<ellipse cx="1163.9" cy="131.6" rx="14.55" ry="14.45"/>
<ellipse cx="1173.0" cy="131.7" rx="14.55" ry="14.45"/>
<ellipse cx="1182.2" cy="131.8" rx="14.55" ry="14.45"/>
<ellipse cx="1191.3" cy="131.9" rx="14.55" ry="14.45"/>
<ellipse cx="1200.4" cy="132.0" rx="14.55" ry="14.45"/>
<ellipse cx="1209.6" cy="132.1" rx="14.55" ry="14.45"/>
<ellipse cx="1218.7" cy="132.2" rx="14.55" ry="14.45"/>
<ellipse cx="1227.8" cy="132.4" rx="14.55" ry="14.45"/>
<ellipse cx="1237.0" cy="132.5" rx="14.55" ry="14.45"/>
<ellipse cx="1246.1" cy="132.6" rx="14.55" ry="14.45"/>
<ellipse cx="1255.2" cy="132.8" rx="14.55" ry="14.45"/>
<ellipse cx="1264.4" cy="132.9" rx="14.55" ry="14.45"/>
<ellipse cx="1273.5" cy="133.0" rx="14.55" ry="14.45"/>
<ellipse cx="1282.6" cy="133.2" rx="14.55" ry="14.45"/>
<ellipse cx="1291.8" cy="133.3" rx="14.55" ry="14.45"/>
<ellipse cx="1300.9" cy="133.5" rx="14.55" ry="14.45"/>
<ellipse cx="1310.0" cy="133.6" rx="14.55" ry="14.45"/>
<ellipse cx="1319.2" cy="133.8" rx="14.55" ry="14.45"/>
<ellipse cx="1328.3" cy="134.0" rx="14.55" ry="14.45"/>
<ellipse cx="1337.4" cy="134.2" rx="14.55" ry="14.45"/>
<ellipse cx="1346.6" cy="134.4" rx="14.55" ry="14.45"/>
<ellipse cx="1355.7" cy="134.6" rx="14.55" ry="14.45"/>
<ellipse cx="1364.8" cy="134.8" rx="14.55" ry="14.45"/>
<ellipse cx="1374.0" cy="135.0" rx="14.55" ry="14.45"/>
<ellipse cx="1383.1" cy="135.3" rx="14.55" ry="14.45"/>
<ellipse cx="1392.2" cy="135.5" rx="14.55" ry="14.45"/>
<ellipse cx="1401.4" cy="135.8" rx="14.55" ry="14.45"/>
<ellipse cx="1410.5" cy="136.1" rx="14.55" ry="14.45"/>
<ellipse cx="1419.6" cy="136.4" rx="14.55" ry="14.45"/>
<ellipse cx="1428.8" cy="136.8" rx="14.55" ry="14.45"/>
<ellipse cx="1437.9" cy="137.2" rx="14.55" ry="14.45"/>
<ellipse cx="1447.0" cy="137.6" rx="14.55" ry="14.45"/>
<ellipse cx="1456.2" cy="138.1" rx="14.55" ry="14.45"/>
<ellipse cx="1465.3" cy="138.6" rx="14.55" ry="14.45"/>
<ellipse cx="1474.4" cy="139.1" rx="14.55" ry="14.45"/>
<ellipse cx="1483.6" cy="139.7" rx="14.55" ry="14.45"/>
<ellipse cx="1492.7" cy="140.4" rx="14.55" ry="14.45"/>
<ellipse cx="1501.8" cy="141.1" rx="14.55" ry="14.45"/>
<ellipse cx="1511.0" cy="141.9" rx="14.55" ry="14.45"/>
<ellipse cx="1520.1" cy="142.8" rx="14.55" ry="14.45"/>
<ellipse cx="1529.2" cy="143.7" rx="14.55" ry="14.45"/>
<ellipse cx="1538.3" cy="144.8" rx="14.55" ry="14.45"/>
<ellipse cx="1547.5" cy="146.0" rx="14.55" ry="14.45"/>
<ellipse cx="1556.6" cy="147.3" rx="14.55" ry="14.45"/>
<ellipse cx="1565.7" cy="148.7" rx="14.55" ry="14.45"/>
<ellipse cx="1574.9" cy="150.3" rx="14.55" ry="14.45"/>
<ellipse cx="1584.0" cy="152.1" rx="14.55" ry="14.45"/>
<ellipse cx="1593.1" cy="154.0" rx="14.55" ry="14.45"/>
<ellipse cx="1602.3" cy="156.2" rx="14.55" ry="14.45"/>
<ellipse cx="1611.4" cy="158.6" rx="14.55" ry="14.45"/>
<ellipse cx="1620.5" cy="161.3" rx="14.55" ry="14.45"/>
<ellipse cx="1629.7" cy="164.3" rx="14.55" ry="14.45"/>
<ellipse cx="1638.8" cy="167.6" rx="14.55" ry="14.45"/>
<ellipse cx="1647.9" cy="171.3" rx="14.55" ry="14.45"/>
<ellipse cx="1657.1" cy="175.4" rx="14.55" ry="14.45"/>
<ellipse cx="1666.2" cy="180.0" rx="14.55" ry="14.45"/>
<ellipse cx="1675.3" cy="185.1" rx="14.55" ry="14.45"/>
<ellipse cx="1684.5" cy="190.7" rx="14.55" ry="14.45"/>
<ellipse cx="1693.6" cy="197.0" rx="14.55" ry="14.45"/>
<ellipse cx="1702.7" cy="204.1" rx="14.55" ry="14.45"/>
<ellipse cx="1711.9" cy="211.9" rx="14.55" ry="14.45"/>
<ellipse cx="1721.0" cy="220.6" rx="14.55" ry="14.45"/>
<ellipse cx="1730.1" cy="230.4" rx="14.55" ry="14.45"/>
<ellipse cx="1739.3" cy="241.2" rx="14.55" ry="14.45"/>
<ellipse cx="1748.4" cy="253.3" rx="14.55" ry="14.45"/>
<ellipse cx="1757.5" cy="266.8" rx="14.55" ry="14.45"/>
<ellipse cx="1766.7" cy="281.9" rx="14.55" ry="14.45"/>
<ellipse cx="1775.8" cy="298.7" rx="14.55" ry="14.45"/>
<ellipse cx="1784.9" cy="317.4" rx="14.55" ry="14.45"/>
<ellipse cx="1794.1" cy="338.2" rx="14.55" ry="14.45"/>
<ellipse cx="1803.2" cy="361.5" rx="14.55" ry="14.45"/>
<ellipse cx="1812.3" cy="387.5" rx="14.55" ry="14.45"/>
<ellipse cx="1821.5" cy="416.4" rx="14.55" ry="14.45"/>
<ellipse cx="1830.6" cy="448.7" rx="14.55" ry="14.45"/>
<ellipse cx="1839.7" cy="484.7" rx="14.55" ry="14.45"/>
<ellipse cx="1848.9" cy="524.9" rx="14.55" ry="14.45"/>
<ellipse cx="1858.0" cy="569.8" rx="14.55" ry="14.45"/>
<ellipse cx="1867.1" cy="619.8" rx="14.55" ry="14.45"/>
<ellipse cx="1876.3" cy="675.6" rx="14.55" ry="14.45"/>
<ellipse cx="1885.4" cy="737.9" rx="14.55" ry="14.45"/>
<ellipse cx="1894.5" cy="807.3" rx="14.55" ry="14.45"/>
<ellipse cx="1903.6" cy="884.9" rx="14.55" ry="14.45"/>
<ellipse cx="1912.8" cy="971.3" rx="14.55" ry="14.45"/>
<ellipse cx="1921.9" cy="1067.8" rx="14.55" ry="14.45"/>
<ellipse cx="1931.0" cy="1175.5" rx="14.55" ry="14.45"/>
<ellipse cx="1940.2" cy="1295.6" rx="14.55" ry="14.45"/>
<ellipse cx="1949.3" cy="1429.7" rx="14.55" ry="14.45"/>
</g>
<g fill="#90bcdc" stroke="none">
<polyline fill="none" stroke="#90bcdc" stroke-width="11" stroke-linejoin="round" stroke-linecap="round" points="232.4,127.5 241.5,127.6 250.7,127.7 259.8,127.8 268.9,127.9 278.1,128.0 287.2,128.1 296.3,128.2 305.5,128.3 314.6,128.4 323.7,128.5 332.9,128.6 342.0,128.7 351.1,128.8 360.3,128.9 369.4,129.0 378.5,129.1 387.7,129.2 396.8,129.3 405.9,129.4 415.0,129.5 424.2,129.6 433.3,129.7 442.4,129.8 451.6,129.9 460.7,130.0 469.8,130.1 479.0,130.2 488.1,130.3 497.2,130.4 506.4,130.5 515.5,130.6 524.6,130.7 533.8,130.8 542.9,130.9 552.0,131.0 561.2,131.1 570.3,131.2 579.4,131.3 588.6,131.4 597.7,131.5 606.8,131.6 616.0,131.7 625.1,131.8 634.2,131.9 643.4,132.0 652.5,132.1 661.6,132.2 670.8,132.3 679.9,132.4 689.0,132.5 698.2,132.5 707.3,132.6 716.4,132.7 725.6,132.8 734.7,132.9 743.8,133.0 753.0,133.1 762.1,133.2 771.2,133.3 780.3,133.4 789.5,133.5 798.6,133.6 807.7,133.7 816.9,133.8 826.0,133.9 835.1,134.0 844.3,134.1 853.4,134.2 862.5,134.3 871.7,134.4 880.8,134.5 889.9,134.6 899.1,134.7 908.2,134.8 917.3,134.9 926.5,135.0 935.6,135.1 944.7,135.2 953.9,135.3 963.0,135.4 972.1,135.5 981.3,135.6 990.4,135.7 999.5,135.8 1008.7,135.9 1017.8,136.0 1026.9,136.1 1036.1,136.2 1045.2,136.3 1054.3,136.4 1063.5,136.5 1072.6,136.6 1081.7,136.7 1090.9,136.8 1100.0,136.9 1109.1,137.0 1118.3,137.1 1127.4,137.2 1136.5,137.4 1145.7,137.5 1154.8,137.6 1163.9,137.7 1173.0,137.8 1182.2,137.9 1191.3,138.0 1200.4,138.1 1209.6,138.2 1218.7,138.4 1227.8,138.5 1237.0,138.6 1246.1,138.7 1255.2,138.9 1264.4,139.0 1273.5,139.1 1282.6,139.3 1291.8,139.4 1300.9,139.6 1310.0,139.8 1319.2,139.9 1328.3,140.1 1337.4,140.3 1346.6,140.5 1355.7,140.7 1364.8,140.9 1374.0,141.1 1383.1,141.4 1392.2,141.6 1401.4,141.9 1410.5,142.2 1419.6,142.6 1428.8,142.9 1437.9,143.3 1447.0,143.7 1456.2,144.2 1465.3,144.7 1474.4,145.2 1483.6,145.8 1492.7,146.5 1501.8,147.2 1511.0,148.0 1520.1,148.9 1529.2,149.8 1538.3,150.9 1547.5,152.1 1556.6,153.4 1565.7,154.8 1574.9,156.4 1584.0,158.2 1593.1,160.1 1602.3,162.3 1611.4,164.7 1620.5,167.4 1629.7,170.4 1638.8,173.7 1647.9,177.4 1657.1,181.5 1666.2,186.1 1675.3,191.2 1684.5,196.9 1693.6,203.2 1702.7,210.2 1711.9,218.1 1721.0,226.8 1730.1,236.5 1739.3,247.4 1748.4,259.5 1757.5,273.0 1766.7,288.1 1775.8,304.8 1784.9,323.6 1794.1,344.4 1803.2,367.7 1812.3,393.7 1821.5,422.7 1830.6,455.0 1839.7,491.0 1848.9,531.2 1858.0,576.1 1867.1,626.1 1876.3,682.0 1885.4,744.3 1894.5,813.8 1903.6,891.3 1912.8,977.8 1921.9,1074.4 1931.0,1182.1 1940.2,1302.3 1949.3,1436.4"/>
<ellipse cx="232.4" cy="127.5" rx="14.55" ry="14.45"/>
<ellipse cx="241.5" cy="127.6" rx="14.55" ry="14.45"/>
<ellipse cx="250.7" cy="127.7" rx="14.55" ry="14.45"/>
<ellipse cx="259.8" cy="127.8" rx="14.55" ry="14.45"/>
<ellipse cx="268.9" cy="127.9" rx="14.55" ry="14.45"/>
<ellipse cx="278.1" cy="128.0" rx="14.55" ry="14.45"/>
<ellipse cx="287.2" cy="128.1" rx="14.55" ry="14.45"/>
<ellipse cx="296.3" cy="128.2" rx="14.55" ry="14.45"/>
<ellipse cx="305.5" cy="128.3" rx="14.55" ry="14.45"/>
<ellipse cx="314.6" cy="128.4" rx="14.55" ry="14.45"/>
<ellipse cx="323.7" cy="128.5" rx="14.55" ry="14.45"/>
<ellipse cx="332.9" cy="128.6" rx="14.55" ry="14.45"/>
<ellipse cx="342.0" cy="128.7" rx="14.55" ry="14.45"/>
<ellipse cx="351.1" cy="128.8" rx="14.55" ry="14.45"/>
<ellipse cx="360.3" cy="128.9" rx="14.55" ry="14.45"/>
<ellipse cx="369.4" cy="129.0" rx="14.55" ry="14.45"/>
<ellipse cx="378.5" cy="129.1" rx="14.55" ry="14.45"/>
<ellipse cx="387.7" cy="129.2" rx="14.55" ry="14.45"/>
<ellipse cx="396.8" cy="129.3" rx="14.55" ry="14.45"/>
<ellipse cx="405.9" cy="129.4" rx="14.55" ry="14.45"/>
<ellipse cx="415.0" cy="129.5" rx="14.55" ry="14.45"/>
<ellipse cx="424.2" cy="129.6" rx="14.55" ry="14.45"/>
<ellipse cx="433.3" cy="129.7" rx="14.55" ry="14.45"/>
<ellipse cx="442.4" cy="129.8" rx="14.55" ry="14.45"/>
<ellipse cx="451.6" cy="129.9" rx="14.55" ry="14.45"/>
<ellipse cx="460.7" cy="130.0" rx="14.55" ry="14.45"/>
<ellipse cx="469.8" cy="130.1" rx="14.55" ry="14.45"/>
<ellipse cx="479.0" cy="130.2" rx="14.55" ry="14.45"/>
<ellipse cx="488.1" cy="130.3" rx="14.55" ry="14.45"/>
<ellipse cx="497.2" cy="130.4" rx="14.55" ry="14.45"/>
<ellipse cx="506.4" cy="130.5" rx="14.55" ry="14.45"/>
<ellipse cx="515.5" cy="130.6" rx="14.55" ry="14.45"/>
<ellipse cx="524.6" cy="130.7" rx="14.55" ry="14.45"/>
<ellipse cx="533.8" cy="130.8" rx="14.55" ry="14.45"/>
<ellipse cx="542.9" cy="130.9" rx="14.55" ry="14.45"/>
<ellipse cx="552.0" cy="131.0" rx="14.55" ry="14.45"/>
<ellipse cx="561.2" cy="131.1" rx="14.55" ry="14.45"/>
<ellipse cx="570.3" cy="131.2" rx="14.55" ry="14.45"/>
<ellipse cx="579.4" cy="131.3" rx="14.55" ry="14.45"/>
<ellipse cx="588.6" cy="131.4" rx="14.55" ry="14.45"/>
<ellipse cx="597.7" cy="131.5" rx="14.55" ry="14.45"/>
<ellipse cx="606.8" cy="131.6" rx="14.55" ry="14.45"/>
<ellipse cx="616.0" cy="131.7" rx="14.55" ry="14.45"/>
<ellipse cx="625.1" cy="131.8" rx="14.55" ry="14.45"/>
<ellipse cx="634.2" cy="131.9" rx="14.55" ry="14.45"/>
<ellipse cx="643.4" cy="132.0" rx="14.55" ry="14.45"/>
<ellipse cx="652.5" cy="132.1" rx="14.55" ry="14.45"/>
<ellipse cx="661.6" cy="132.2" rx="14.55" ry="14.45"/>
<ellipse cx="670.8" cy="132.3" rx="14.55" ry="14.45"/>
<ellipse cx="679.9" cy="132.4" rx="14.55" ry="14.45"/>
<ellipse cx="689.0" cy="132.5" rx="14.55" ry="14.45"/>
<ellipse cx="698.2" cy="132.5" rx="14.55" ry="14.45"/>
<ellipse cx="707.3" cy="132.6" rx="14.55" ry="14.45"/>
<ellipse cx="716.4" cy="132.7" rx="14.55" ry="14.45"/>
<ellipse cx="725.6" cy="132.8" rx="14.55" ry="14.45"/>
<ellipse cx="734.7" cy="132.9" rx="14.55" ry="14.45"/>
<ellipse cx="743.8" cy="133.0" rx="14.55" ry="14.45"/>
<ellipse cx="753.0" cy="133.1" rx="14.55" ry="14.45"/>
<ellipse cx="762.1" cy="133.2" rx="14.55" ry="14.45"/>
<ellipse cx="771.2" cy="133.3" rx="14.55" ry="14.45"/>
<ellipse cx="780.3" cy="133.4" rx="14.55" ry="14.45"/>
<ellipse cx="789.5" cy="133.5" rx="14.55" ry="14.45"/>
<ellipse cx="798.6" cy="133.6" rx="14.55" ry="14.45"/>
<ellipse cx="807.7" cy="133.7" rx="14.55" ry="14.45"/>
<ellipse cx="816.9" cy="133.8" rx="14.55" ry="14.45"/>
<ellipse cx="826.0" cy="133.9" rx="14.55" ry="14.45"/>
<ellipse cx="835.1" cy="134.0" rx="14.55" ry="14.45"/>
<ellipse cx="844.3" cy="134.1" rx="14.55" ry="14.45"/>
<ellipse cx="853.4" cy="134.2" rx="14.55" ry="14.45"/>
<ellipse cx="862.5" cy="134.3" rx="14.55" ry="14.45"/>
<ellipse cx="871.7" cy="134.4" rx="14.55" ry="14.45"/>
<ellipse cx="880.8" cy="134.5" rx="14.55" ry="14.45"/>
<ellipse cx="889.9" cy="134.6" rx="14.55" ry="14.45"/>
<ellipse cx="899.1" cy="134.7" rx="14.55" ry="14.45"/>
<ellipse cx="908.2" cy="134.8" rx="14.55" ry="14.45"/>
<ellipse cx="917.3" cy="134.9" rx="14.55" ry="14.45"/>
<ellipse cx="926.5" cy="135.0" rx="14.55" ry="14.45"/>
<ellipse cx="935.6" cy="135.1" rx="14.55" ry="14.45"/>
<ellipse cx="944.7" cy="135.2" rx="14.55" ry="14.45"/>
<ellipse cx="953.9" cy="135.3" rx="14.55" ry="14.45"/>
<ellipse cx="963.0" cy="135.4" rx="14.55" ry="14.45"/>
<ellipse cx="972.1" cy="135.5" rx="14.55" ry="14.45"/>
<ellipse cx="981.3" cy="135.6" rx="14.55" ry="14.45"/>
<ellipse cx="990.4" cy="135.7" rx="14.55" ry="14.45"/>
<ellipse cx="999.5" cy="135.8" rx="14.55" ry="14.45"/>
<ellipse cx="1008.7" cy="135.9" rx="14.55" ry="14.45"/>
<ellipse cx="1017.8" cy="136.0" rx="14.55" ry="14.45"/>
<ellipse cx="1026.9" cy="136.1" rx="14.55" ry="14.45"/>
<ellipse cx="1036.1" cy="136.2" rx="14.55" ry="14.45"/>
<ellipse cx="1045.2" cy="136.3" rx="14.55" ry="14.45"/>
<ellipse cx="1054.3" cy="136.4" rx="14.55" ry="14.45"/>
<ellipse cx="1063.5" cy="136.5" rx="14.55" ry="14.45"/>
<ellipse cx="1072.6" cy="136.6" rx="14.55" ry="14.45"/>
<ellipse cx="1081.7" cy="136.7" rx="14.55" ry="14.45"/>
<ellipse cx="1090.9" cy="136.8" rx="14.55" ry="14.45"/>
<ellipse cx="1100.0" cy="136.9" rx="14.55" ry="14.45"/>
<ellipse cx="1109.1" cy="137.0" rx="14.55" ry="14.45"/>
<ellipse cx="1118.3" cy="137.1" rx="14.55" ry="14.45"/>
<ellipse cx="1127.4" cy="137.2" rx="14.55" ry="14.45"/>
<ellipse cx="1136.5" cy="137.4" rx="14.55" ry="14.45"/>
<ellipse cx="1145.7" cy="137.5" rx="14.55" ry="14.45"/>
<ellipse cx="1154.8" cy="137.6" rx="14.55" ry="14.45"/>
<ellipse cx="1163.9" cy="137.7" rx="14.55" ry="14.45"/>
<ellipse cx="1173.0" cy="137.8" rx="14.55" ry="14.45"/>
<ellipse cx="1182.2" cy="137.9" rx="14.55" ry="14.45"/>
<ellipse cx="1191.3" cy="138.0" rx="14.55" ry="14.45"/>
<ellipse cx="1200.4" cy="138.1" rx="14.55" ry="14.45"/>
<ellipse cx="1209.6" cy="138.2" rx="14.55" ry="14.45"/>
<ellipse cx="1218.7" cy="138.4" rx="14.55" ry="14.45"/>
<ellipse cx="1227.8" cy="138.5" rx="14.55" ry="14.45"/>
<ellipse cx="1237.0" cy="138.6" rx="14.55" ry="14.45"/>
<ellipse cx="1246.1" cy="138.7" rx="14.55" ry="14.45"/>
<ellipse cx="1255.2" cy="138.9" rx="14.55" ry="14.45"/>
<ellipse cx="1264.4" cy="139.0" rx="14.55" ry="14.45"/>
<ellipse cx="1273.5" cy="139.1" rx="14.55" ry="14.45"/>
<ellipse cx="1282.6" cy="139.3" rx="14.55" ry="14.45"/>
<ellipse cx="1291.8" cy="139.4" rx="14.55" ry="14.45"/>
<ellipse cx="1300.9" cy="139.6" rx="14.55" ry="14.45"/>
<ellipse cx="1310.0" cy="139.8" rx="14.55" ry="14.45"/>
<ellipse cx="1319.2" cy="139.9" rx="14.55" ry="14.45"/>
<ellipse cx="1328.3" cy="140.1" rx="14.55" ry="14.45"/>
<ellipse cx="1337.4" cy="140.3" rx="14.55" ry="14.45"/>
<ellipse cx="1346.6" cy="140.5" rx="14.55" ry="14.45"/>
<ellipse cx="1355.7" cy="140.7" rx="14.55" ry="14.45"/>
<ellipse cx="1364.8" cy="140.9" rx="14.55" ry="14.45"/>
<ellipse cx="1374.0" cy="141.1" rx="14.55" ry="14.45"/>
<ellipse cx="1383.1" cy="141.4" rx="14.55" ry="14.45"/>
<ellipse cx="1392.2" cy="141.6" rx="14.55" ry="14.45"/>
<ellipse cx="1401.4" cy="141.9" rx="14.55" ry="14.45"/>
<ellipse cx="1410.5" cy="142.2" rx="14.55" ry="14.45"/>
<ellipse cx="1419.6" cy="142.6" rx="14.55" ry="14.45"/>
<ellipse cx="1428.8" cy="142.9" rx="14.55" ry="14.45"/>
<ellipse cx="1437.9" cy="143.3" rx="14.55" ry="14.45"/>
<ellipse cx="1447.0" cy="143.7" rx="14.55" ry="14.45"/>
<ellipse cx="1456.2" cy="144.2" rx="14.55" ry="14.45"/>
<ellipse cx="1465.3" cy="144.7" rx="14.55" ry="14.45"/>
<ellipse cx="1474.4" cy="145.2" rx="14.55" ry="14.45"/>
<ellipse cx="1483.6" cy="145.8" rx="14.55" ry="14.45"/>
<ellipse cx="1492.7" cy="146.5" rx="14.55" ry="14.45"/>
<ellipse cx="1501.8" cy="147.2" rx="14.55" ry="14.45"/>
<ellipse cx="1511.0" cy="148.0" rx="14.55" ry="14.45"/>
<ellipse cx="1520.1" cy="148.9" rx="14.55" ry="14.45"/>
<ellipse cx="1529.2" cy="149.8" rx="14.55" ry="14.45"/>
<ellipse cx="1538.3" cy="150.9" rx="14.55" ry="14.45"/>
<ellipse cx="1547.5" cy="152.1" rx="14.55" ry="14.45"/>
<ellipse cx="1556.6" cy="153.4" rx="14.55" ry="14.45"/>
<ellipse cx="1565.7" cy="154.8" rx="14.55" ry="14.45"/>
<ellipse cx="1574.9" cy="156.4" rx="14.55" ry="14.45"/>
<ellipse cx="1584.0" cy="158.2" rx="14.55" ry="14.45"/>
<ellipse cx="1593.1" cy="160.1" rx="14.55" ry="14.45"/>
<ellipse cx="1602.3" cy="162.3" rx="14.55" ry="14.45"/>
<ellipse cx="1611.4" cy="164.7" rx="14.55" ry="14.45"/>
<ellipse cx="1620.5" cy="167.4" rx="14.55" ry="14.45"/>
<ellipse cx="1629.7" cy="170.4" rx="14.55" ry="14.45"/>
<ellipse cx="1638.8" cy="173.7" rx="14.55" ry="14.45"/>
<ellipse cx="1647.9" cy="177.4" rx="14.55" ry="14.45"/>
<ellipse cx="1657.1" cy="181.5" rx="14.55" ry="14.45"/>
<ellipse cx="1666.2" cy="186.1" rx="14.55" ry="14.45"/>
<ellipse cx="1675.3" cy="191.2" rx="14.55" ry="14.45"/>
<ellipse cx="1684.5" cy="196.9" rx="14.55" ry="14.45"/>
<ellipse cx="1693.6" cy="203.2" rx="14.55" ry="14.45"/>
<ellipse cx="1702.7" cy="210.2" rx="14.55" ry="14.45"/>
<ellipse cx="1711.9" cy="218.1" rx="14.55" ry="14.45"/>
<ellipse cx="1721.0" cy="226.8" rx="14.55" ry="14.45"/>
<ellipse cx="1730.1" cy="236.5" rx="14.55" ry="14.45"/>
<ellipse cx="1739.3" cy="247.4" rx="14.55" ry="14.45"/>
<ellipse cx="1748.4" cy="259.5" rx="14.55" ry="14.45"/>
<ellipse cx="1757.5" cy="273.0" rx="14.55" ry="14.45"/>
<ellipse cx="1766.7" cy="288.1" rx="14.55" ry="14.45"/>
<ellipse cx="1775.8" cy="304.8" rx="14.55" ry="14.45"/>
<ellipse cx="1784.9" cy="323.6" rx="14.55" ry="14.45"/>
<ellipse cx="1794.1" cy="344.4" rx="14.55" ry="14.45"/>
<ellipse cx="1803.2" cy="367.7" rx="14.55" ry="14.45"/>
<ellipse cx="1812.3" cy="393.7" rx="14.55" ry="14.45"/>
<ellipse cx="1821.5" cy="422.7" rx="14.55" ry="14.45"/>
<ellipse cx="1830.6" cy="455.0" rx="14.55" ry="14.45"/>
<ellipse cx="1839.7" cy="491.0" rx="14.55" ry="14.45"/>
<ellipse cx="1848.9" cy="531.2" rx="14.55" ry="14.45"/>
<ellipse cx="1858.0" cy="576.1" rx="14.55" ry="14.45"/>
<ellipse cx="1867.1" cy="626.1" rx="14.55" ry="14.45"/>
<ellipse cx="1876.3" cy="682.0" rx="14.55" ry="14.45"/>
<ellipse cx="1885.4" cy="744.3" rx="14.55" ry="14.45"/>
<ellipse cx="1894.5" cy="813.8" rx="14.55" ry="14.45"/>
<ellipse cx="1903.6" cy="891.3" rx="14.55" ry="14.45"/>
<ellipse cx="1912.8" cy="977.8" rx="14.55" ry="14.45"/>
<ellipse cx="1921.9" cy="1074.4" rx="14.55" ry="14.45"/>
<ellipse cx="1931.0" cy="1182.1" rx="14.55" ry="14.45"/>
<ellipse cx="1940.2" cy="1302.3" rx="14.55" ry="14.45"/>
<ellipse cx="1949.3" cy="1436.4" rx="14.55" ry="14.45"/>
</g>
</g>
<text class="b" font-size="55.1" text-anchor="end" transform="translate(189.3,1462.6) scale(1,1.011)">0</text>
<text class="b" font-size="55.1" text-anchor="end" transform="translate(189.3,1326.5) scale(1,1.011)">2</text>
<text class="b" font-size="55.1" text-anchor="end" transform="translate(189.3,1190.4) scale(1,1.011)">4</text>
<text class="b" font-size="55.1" text-anchor="end" transform="translate(189.3,1054.3) scale(1,1.011)">6</text>
<text class="b" font-size="55.1" text-anchor="end" transform="translate(189.3,918.2) scale(1,1.011)">8</text>
<text class="b" font-size="55.1" text-anchor="end" transform="translate(189.3,782.1) scale(1,1.011)">10</text>
<text class="b" font-size="55.1" text-anchor="end" transform="translate(189.3,646) scale(1,1.011)">12</text>
<text class="b" font-size="55.1" text-anchor="end" transform="translate(189.3,509.9) scale(1,1.011)">14</text>
<text class="b" font-size="55.1" text-anchor="end" transform="translate(189.3,373.8) scale(1,1.011)">16</text>
<text class="b" font-size="55.1" text-anchor="end" transform="translate(189.3,237.7) scale(1,1.011)">18</text>
<text class="b" font-size="55.1" text-anchor="end" transform="translate(189.3,101.6) scale(1,1.011)">20</text>
<text class="b" font-size="53.1" text-anchor="middle" transform="translate(231.5,1531) scale(1,1.072)">0.0</text>
<text class="b" font-size="53.1" text-anchor="middle" transform="translate(414.15,1531) scale(1,1.072)">0.1</text>
<text class="b" font-size="53.1" text-anchor="middle" transform="translate(596.8,1531) scale(1,1.072)">0.2</text>
<text class="b" font-size="53.1" text-anchor="middle" transform="translate(779.45,1531) scale(1,1.072)">0.3</text>
<text class="b" font-size="53.1" text-anchor="middle" transform="translate(962.1,1531) scale(1,1.072)">0.4</text>
<text class="b" font-size="53.1" text-anchor="middle" transform="translate(1144.75,1531) scale(1,1.072)">0.5</text>
<text class="b" font-size="53.1" text-anchor="middle" transform="translate(1327.4,1531) scale(1,1.072)">0.6</text>
<text class="b" font-size="53.1" text-anchor="middle" transform="translate(1510.05,1531) scale(1,1.072)">0.7</text>
<text class="b" font-size="53.1" text-anchor="middle" transform="translate(1692.7,1531) scale(1,1.072)">0.8</text>
<text class="b" font-size="53.1" text-anchor="middle" transform="translate(1875.35,1531) scale(1,1.072)">0.9</text>
<text class="b" font-size="53.1" text-anchor="middle" transform="translate(2058,1531) scale(1,1.072)">1.0</text>
<text class="b" font-size="59.7" text-anchor="middle" transform="translate(1141.6,1633) scale(1,1.01)">Voltage / V</text>
<text class="b" font-size="62" transform="translate(102.9,1107) rotate(-90)" letter-spacing="-1.2">Current density / mA.cm</text>
<text class="b" font-size="43" text-anchor="end" transform="translate(77.9,357.5) rotate(-90)"><tspan dy="3.5">−</tspan><tspan dy="-3.5">2</tspan></text>
<text class="b" font-size="61.1" transform="translate(20.7,91.2) scale(1,1.022)">(a)</text>
<text class="b" font-size="47.6" transform="translate(1912.2,141.3) scale(1,1.025)">ZnOS ETL thickness</text>
<line x1="1914.5" y1="190.5" x2="2034.5" y2="190.5" stroke="#000000" stroke-width="11" stroke-linecap="round"/>
<ellipse cx="1974.4" cy="190.5" rx="13.7" ry="14.45" fill="#000000"/>
<text font-size="54.5" transform="translate(2048.6,207.3) scale(1,0.985)">20 nm</text>
<line x1="1914.5" y1="256.45" x2="2034.5" y2="256.45" stroke="#ff0000" stroke-width="11" stroke-linecap="round"/>
<ellipse cx="1974.4" cy="256.45" rx="13.7" ry="14.45" fill="#ff0000"/>
<text font-size="54.5" transform="translate(2048.6,273.25) scale(1,0.985)">50 nm</text>
<line x1="1914.5" y1="322.4" x2="2034.5" y2="322.4" stroke="#0000ff" stroke-width="11" stroke-linecap="round"/>
<ellipse cx="1974.4" cy="322.4" rx="13.7" ry="14.45" fill="#0000ff"/>
<text font-size="54.5" transform="translate(2050.3,339.2) scale(1,0.985)">100 nm</text>
<line x1="1914.5" y1="388.35" x2="2034.5" y2="388.35" stroke="#00ff00" stroke-width="11" stroke-linecap="round"/>
<ellipse cx="1974.4" cy="388.35" rx="13.7" ry="14.45" fill="#00ff00"/>
<text font-size="54.5" transform="translate(2050.3,405.15) scale(1,0.985)">150 nm</text>
<line x1="1914.5" y1="454.3" x2="2034.5" y2="454.3" stroke="#ff00ff" stroke-width="11" stroke-linecap="round"/>
<ellipse cx="1974.4" cy="454.3" rx="13.7" ry="14.45" fill="#ff00ff"/>
<text font-size="54.5" transform="translate(2048.6,471.1) scale(1,0.985)">200 nm</text>
<line x1="1914.5" y1="520.25" x2="2034.5" y2="520.25" stroke="#ff8000" stroke-width="11" stroke-linecap="round"/>
<ellipse cx="1974.4" cy="520.25" rx="13.7" ry="14.45" fill="#ff8000"/>
<text font-size="54.5" transform="translate(2048.6,537.05) scale(1,0.985)">250 nm</text>
<line x1="1914.5" y1="586.2" x2="2034.5" y2="586.2" stroke="#90bcdc" stroke-width="11" stroke-linecap="round"/>
<ellipse cx="1974.4" cy="586.2" rx="13.7" ry="14.45" fill="#90bcdc"/>
<text font-size="54.5" transform="translate(2048.6,603) scale(1,0.985)">300 nm</text>
<g class="ax" stroke-width="4">
<line x1="505.5" y1="341" x2="505.5" y2="1300" stroke-width="3.2"/>
<line x1="491" y1="1284" x2="1576" y2="1284"/>
<line x1="491" y1="1189.9" x2="505.5" y2="1189.9"/>
<line x1="491" y1="1095.8" x2="505.5" y2="1095.8"/>
<line x1="491" y1="1001.7" x2="505.5" y2="1001.7"/>
<line x1="491" y1="907.6" x2="505.5" y2="907.6"/>
<line x1="491" y1="813.5" x2="505.5" y2="813.5"/>
<line x1="491" y1="719.4" x2="505.5" y2="719.4"/>
<line x1="491" y1="625.3" x2="505.5" y2="625.3"/>
<line x1="491" y1="531.2" x2="505.5" y2="531.2"/>
<line x1="491" y1="437.1" x2="505.5" y2="437.1"/>
<line x1="491" y1="343.0" x2="505.5" y2="343.0"/>
<line x1="677.9" y1="1284" x2="677.9" y2="1300" stroke-width="3.5"/>
<line x1="850.2" y1="1284" x2="850.2" y2="1300" stroke-width="3.5"/>
<line x1="1022.5" y1="1284" x2="1022.5" y2="1300" stroke-width="3.5"/>
<line x1="1194.9" y1="1284" x2="1194.9" y2="1300" stroke-width="3.5"/>
<line x1="1367.2" y1="1284" x2="1367.2" y2="1300" stroke-width="3.5"/>
<line x1="1539.6" y1="1284" x2="1539.6" y2="1300" stroke-width="3.5"/>
</g>
<text class="b" font-size="30.85" text-anchor="end" transform="translate(481.4,1294.2) scale(1,1.223)">14.5</text>
<text class="b" font-size="30.85" text-anchor="end" transform="translate(481.4,1200.1) scale(1,1.223)">14.6</text>
<text class="b" font-size="30.85" text-anchor="end" transform="translate(481.4,1106) scale(1,1.223)">14.7</text>
<text class="b" font-size="30.85" text-anchor="end" transform="translate(481.4,1011.9) scale(1,1.223)">14.8</text>
<text class="b" font-size="30.85" text-anchor="end" transform="translate(481.4,917.8) scale(1,1.223)">14.9</text>
<text class="b" font-size="30.85" text-anchor="end" transform="translate(481.4,823.7) scale(1,1.223)">15.0</text>
<text class="b" font-size="30.85" text-anchor="end" transform="translate(481.4,729.6) scale(1,1.223)">15.1</text>
<text class="b" font-size="30.85" text-anchor="end" transform="translate(481.4,635.5) scale(1,1.223)">15.2</text>
<text class="b" font-size="30.85" text-anchor="end" transform="translate(481.4,541.4) scale(1,1.223)">15.3</text>
<text class="b" font-size="30.85" text-anchor="end" transform="translate(481.4,447.3) scale(1,1.223)">15.4</text>
<text class="b" font-size="30.85" text-anchor="end" transform="translate(481.4,353.2) scale(1,1.223)">15.5</text>
<text class="b" font-size="31" text-anchor="middle" transform="translate(505.5,1337.6) scale(1,1.22)">0</text>
<text class="b" font-size="31" text-anchor="middle" transform="translate(677.85,1337.6) scale(1,1.22)">50</text>
<text class="b" font-size="31" text-anchor="middle" transform="translate(850.2,1337.6) scale(1,1.22)">100</text>
<text class="b" font-size="31" text-anchor="middle" transform="translate(1022.55,1337.6) scale(1,1.22)">150</text>
<text class="b" font-size="31" text-anchor="middle" transform="translate(1194.9,1337.6) scale(1,1.22)">200</text>
<text class="b" font-size="31" text-anchor="middle" transform="translate(1367.25,1337.6) scale(1,1.22)">250</text>
<text class="b" font-size="31" text-anchor="middle" transform="translate(1539.6,1337.6) scale(1,1.22)">300</text>
<text class="b" font-size="37.8" text-anchor="middle" transform="translate(1037.5,1403.2) scale(1,1.045)">Thickness / nm</text>
<text class="b" font-size="40" text-anchor="middle" transform="translate(405.2,812.85) rotate(-90)" letter-spacing="0.55">PCE / %</text>
<text class="b" font-size="60.25" transform="translate(317,369.3) scale(1,1.036)">(b)</text>
<polyline fill="none" stroke="#0000ff" stroke-width="7" points="574.4,607.0 677.9,703.9 850.2,816.8 1022.5,918.9 1194.9,1011.3 1367.2,1095.0 1539.6,1171.0"/>
<g fill="#0000ff">
<rect x="560.6" y="592.0" width="27.7" height="30"/>
<rect x="664.0" y="688.9" width="27.7" height="30"/>
<rect x="836.4" y="801.8" width="27.7" height="30"/>
<rect x="1008.7" y="903.9" width="27.7" height="30"/>
<rect x="1181.1" y="996.3" width="27.7" height="30"/>
<rect x="1353.4" y="1080.0" width="27.7" height="30"/>
<rect x="1525.8" y="1156.0" width="27.7" height="30"/>
</g>
</svg>
</body></html>
